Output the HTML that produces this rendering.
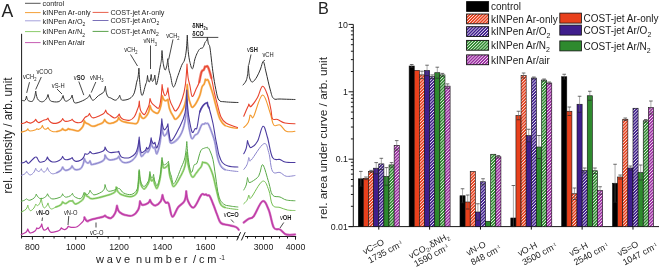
<!DOCTYPE html><html><head><meta charset="utf-8"><style>svg{font-family:"Liberation Sans",sans-serif}html,body{margin:0;padding:0;background:#fff;width:660px;height:268px;overflow:hidden;position:relative}</style></head><body><svg width="660" height="268" viewBox="0 0 660 268" style="position:absolute;left:0;top:0;filter:blur(0.3px)">
<defs>
<pattern id="hatch" patternUnits="userSpaceOnUse" width="2.2" height="2.2" patternTransform="rotate(45)"><rect x="0" y="0" width="0.75" height="2.2" fill="#fff" fill-opacity="0.85"/></pattern>
</defs>
<text x="1.6" y="16.6" font-size="17.6" text-anchor="start" font-weight="normal" fill="#222" >A</text>
<line x1="25" y1="3.3" x2="40.6" y2="3.3" stroke="#555555" stroke-width="1"/>
<text transform="translate(42.6,6.1) scale(0.9,1)" font-size="8" text-anchor="start" font-weight="normal" fill="#222" >control</text>
<line x1="25" y1="12.6" x2="40.6" y2="12.6" stroke="#f4a038" stroke-width="1"/>
<text transform="translate(42.6,15.399999999999999) scale(0.9,1)" font-size="8" text-anchor="start" font-weight="normal" fill="#222" >kINPen Ar-only</text>
<line x1="25" y1="20.8" x2="40.6" y2="20.8" stroke="#a6a2dc" stroke-width="1"/>
<text transform="translate(42.6,23.6) scale(0.9,1)" font-size="8" text-anchor="start" font-weight="normal" fill="#222" >kINPen Ar/O<tspan baseline-shift="-40%" font-size="70%">2</tspan></text>
<line x1="25" y1="31.6" x2="40.6" y2="31.6" stroke="#8ccc6a" stroke-width="1"/>
<text transform="translate(42.6,34.4) scale(0.9,1)" font-size="8" text-anchor="start" font-weight="normal" fill="#222" >kINPen Ar/N<tspan baseline-shift="-40%" font-size="70%">2</tspan></text>
<line x1="25" y1="42.6" x2="40.6" y2="42.6" stroke="#c65cb2" stroke-width="1"/>
<text transform="translate(42.6,45.4) scale(0.9,1)" font-size="8" text-anchor="start" font-weight="normal" fill="#222" >kINPen Ar/air</text>
<line x1="92.6" y1="12.4" x2="108.5" y2="12.4" stroke="#e8604a" stroke-width="1"/>
<text transform="translate(110.4,15.2) scale(0.9,1)" font-size="8" text-anchor="start" font-weight="normal" fill="#222" >COST-jet Ar-only</text>
<line x1="92.6" y1="20.5" x2="108.5" y2="20.5" stroke="#7a70b8" stroke-width="1"/>
<text transform="translate(110.4,23.3) scale(0.9,1)" font-size="8" text-anchor="start" font-weight="normal" fill="#222" >COST-jet Ar/O<tspan baseline-shift="-40%" font-size="70%">2</tspan></text>
<line x1="92.6" y1="31.4" x2="108.5" y2="31.4" stroke="#5aa24a" stroke-width="1"/>
<text transform="translate(110.4,34.199999999999996) scale(0.9,1)" font-size="8" text-anchor="start" font-weight="normal" fill="#222" >COST-jet Ar/N<tspan baseline-shift="-40%" font-size="70%">2</tspan></text>
<g stroke="#1a1a1a" stroke-width="1" fill="none">
<line x1="21.6" y1="33.8" x2="21.6" y2="236.5"/>
<line x1="21.1" y1="236.5" x2="239.2" y2="236.5"/>
<line x1="244.4" y1="236.5" x2="296.2" y2="236.5"/>
<line x1="21.57" y1="236.5" x2="21.57" y2="238.5"/>
<line x1="32.40" y1="236.5" x2="32.40" y2="239.7"/>
<line x1="43.22" y1="236.5" x2="43.22" y2="238.5"/>
<line x1="54.05" y1="236.5" x2="54.05" y2="238.5"/>
<line x1="64.88" y1="236.5" x2="64.88" y2="238.5"/>
<line x1="75.70" y1="236.5" x2="75.70" y2="239.7"/>
<line x1="86.53" y1="236.5" x2="86.53" y2="238.5"/>
<line x1="97.35" y1="236.5" x2="97.35" y2="238.5"/>
<line x1="108.18" y1="236.5" x2="108.18" y2="238.5"/>
<line x1="119.00" y1="236.5" x2="119.00" y2="239.7"/>
<line x1="129.82" y1="236.5" x2="129.82" y2="238.5"/>
<line x1="140.65" y1="236.5" x2="140.65" y2="238.5"/>
<line x1="151.47" y1="236.5" x2="151.47" y2="238.5"/>
<line x1="162.30" y1="236.5" x2="162.30" y2="239.7"/>
<line x1="173.12" y1="236.5" x2="173.12" y2="238.5"/>
<line x1="183.95" y1="236.5" x2="183.95" y2="238.5"/>
<line x1="194.78" y1="236.5" x2="194.78" y2="238.5"/>
<line x1="205.60" y1="236.5" x2="205.60" y2="239.7"/>
<line x1="216.43" y1="236.5" x2="216.43" y2="238.5"/>
<line x1="227.25" y1="236.5" x2="227.25" y2="238.5"/>
<line x1="238.08" y1="236.5" x2="238.08" y2="238.5"/>
<line x1="247.50" y1="236.5" x2="247.50" y2="238.5"/>
<line x1="255.50" y1="236.5" x2="255.50" y2="238.5"/>
<line x1="263.50" y1="236.5" x2="263.50" y2="239.7"/>
<line x1="271.50" y1="236.5" x2="271.50" y2="238.5"/>
<line x1="279.50" y1="236.5" x2="279.50" y2="238.5"/>
<line x1="287.50" y1="236.5" x2="287.50" y2="238.5"/>
<line x1="295.50" y1="236.5" x2="295.50" y2="239.7"/>
</g>
<rect x="238.5" y="230" width="6.5" height="12" fill="#fff"/>
<g stroke="#1a1a1a" stroke-width="1"><line x1="236.8" y1="240.4" x2="240.6" y2="232.2"/><line x1="241.4" y1="240.4" x2="245.2" y2="232.2"/></g>
<text x="32.40" y="249.6" font-size="8.8" text-anchor="middle" font-weight="normal" fill="#1a1a1a" >800</text>
<text x="75.70" y="249.6" font-size="8.8" text-anchor="middle" font-weight="normal" fill="#1a1a1a" >1000</text>
<text x="119.00" y="249.6" font-size="8.8" text-anchor="middle" font-weight="normal" fill="#1a1a1a" >1200</text>
<text x="162.30" y="249.6" font-size="8.8" text-anchor="middle" font-weight="normal" fill="#1a1a1a" >1400</text>
<text x="205.60" y="249.6" font-size="8.8" text-anchor="middle" font-weight="normal" fill="#1a1a1a" >1600</text>
<text x="263.50" y="249.6" font-size="8.8" text-anchor="middle" font-weight="normal" fill="#1a1a1a" >3000</text>
<text x="295.50" y="249.6" font-size="8.8" text-anchor="middle" font-weight="normal" fill="#1a1a1a" >4000</text>
<text x="96" y="263.3" font-size="11" fill="#222" textLength="129" lengthAdjust="spacing" xml:space="preserve">w a v e  n u m b e r  / c m <tspan baseline-shift="super" font-size="60%">-1</tspan></text>
<text transform="translate(11.7,193.4) rotate(-90)" x="0" y="0" font-size="12.2" fill="#222" textLength="116" lengthAdjust="spacingAndGlyphs">rel. intensity / arb. unit</text>
<path d="M21.50,100.20 C21.50,100.20 23.71,100.95 24.50,100.70 C25.29,100.45 25.43,99.68 25.80,98.82 C26.17,97.96 26.50,96.00 26.50,96.00 C26.50,96.00 26.82,97.96 27.16,98.82 C27.51,99.68 27.46,100.25 28.40,100.70 C29.34,101.15 31.18,101.95 32.30,101.30 C33.42,100.65 33.89,99.07 34.51,97.18 C35.13,95.29 35.70,91.00 35.70,91.00 C35.70,91.00 36.17,94.83 36.68,96.52 C37.19,98.21 37.45,99.23 38.50,100.20 C39.55,101.17 40.99,102.04 42.40,101.80 C43.81,101.56 45.17,100.22 46.20,98.88 C47.23,97.54 48.00,94.50 48.00,94.50 C48.00,94.50 48.57,97.33 49.19,98.58 C49.81,99.83 49.77,100.71 51.40,101.30 C53.03,101.89 56.28,102.17 58.10,101.80 C59.92,101.43 60.43,100.44 61.35,99.28 C62.27,98.12 63.10,95.50 63.10,95.50 C63.10,95.50 63.57,97.92 64.08,98.98 C64.59,100.04 64.94,101.19 65.90,101.30 C66.86,101.41 68.34,100.25 69.30,99.60 C70.26,98.95 70.61,98.60 71.12,97.76 C71.63,96.92 72.10,95.00 72.10,95.00 C72.10,95.00 72.65,98.33 73.25,99.80 C73.86,101.27 73.67,102.83 75.40,103.00 C77.13,103.17 80.54,101.62 82.70,100.70 C84.86,99.78 86.08,98.74 87.20,98.00 C88.32,97.26 88.37,97.26 88.83,96.64 C89.28,96.02 89.70,94.60 89.70,94.60 C89.70,94.60 90.32,96.93 91.00,97.96 C91.67,98.99 92.04,100.61 93.40,100.20 C94.76,99.79 96.66,97.04 98.40,95.70 C100.14,94.36 101.78,93.90 102.90,92.90 C104.02,91.90 104.07,91.45 104.53,90.22 C104.98,88.99 105.40,86.20 105.40,86.20 C105.40,86.20 105.83,90.62 106.31,92.56 C106.79,94.50 107.18,95.80 108.00,96.80 C108.82,97.80 109.48,97.38 110.80,98.00 C112.12,98.62 113.86,100.16 115.20,100.20 C116.54,100.24 117.30,99.12 118.12,98.20 C118.95,97.28 119.70,95.20 119.70,95.20 C119.70,95.20 120.17,97.28 120.68,98.20 C121.19,99.12 120.83,100.15 122.50,100.20 C124.17,100.25 127.64,99.84 129.80,98.50 C131.96,97.16 133.07,95.78 134.30,92.90 C135.53,90.02 135.81,85.73 136.50,82.80 C137.19,79.87 137.62,79.62 138.06,76.92 C138.50,74.22 138.90,68.10 138.90,68.10 C138.90,68.10 139.43,79.52 140.02,84.54 C140.61,89.56 141.10,95.42 142.10,95.50 C143.10,95.58 144.64,87.62 145.50,85.00 C146.36,82.38 146.43,82.94 146.80,81.20 C147.17,79.46 147.50,75.50 147.50,75.50 C147.50,75.50 147.78,78.21 148.09,79.40 C148.41,80.59 148.76,82.07 149.20,82.00 C149.64,81.93 150.13,80.38 150.50,79.00 C150.87,77.62 151.20,74.50 151.20,74.50 C151.20,74.50 151.42,77.42 151.66,78.70 C151.89,79.98 152.07,81.46 152.50,81.50 C152.93,81.54 153.57,80.09 154.00,78.90 C154.42,77.71 154.80,75.00 154.80,75.00 C154.80,75.00 155.13,78.75 155.50,80.40 C155.87,82.05 155.92,86.64 156.80,84.00 C157.68,81.36 159.46,70.44 160.30,66.00 C161.14,61.56 161.09,62.64 161.41,59.80 C161.72,56.96 162.00,50.50 162.00,50.50 C162.00,50.50 162.50,58.62 163.05,62.20 C163.60,65.78 164.31,69.40 165.00,70.00 C165.69,70.60 166.31,67.55 166.82,65.48 C167.33,63.41 167.80,58.70 167.80,58.70 C167.80,58.70 168.25,65.70 168.75,68.78 C169.24,71.86 169.63,72.16 170.50,75.50 C171.37,78.84 172.12,87.00 173.50,87.00 C174.88,87.00 176.50,79.48 178.00,75.50 C179.50,71.52 180.51,68.14 181.70,65.30 C182.89,62.46 183.65,62.80 184.50,60.00 C185.35,57.20 185.81,54.58 186.32,50.00 C186.83,45.42 187.30,35.00 187.30,35.00 C187.30,35.00 187.75,46.46 188.25,51.50 C188.74,56.54 189.22,59.34 190.00,62.50 C190.78,65.66 191.58,69.44 192.50,68.75 C193.42,68.06 194.08,61.73 195.00,58.75 C195.92,55.77 196.58,54.33 197.50,52.50 C198.42,50.67 198.99,49.67 200.00,48.75 C201.01,47.83 202.08,48.65 203.00,47.50 C203.92,46.35 204.34,43.78 205.00,42.50 C205.66,41.22 206.17,41.42 206.62,40.50 C207.08,39.58 207.50,37.50 207.50,37.50 C207.50,37.50 207.92,41.88 208.38,43.80 C208.83,45.72 209.17,42.87 210.00,48.00 C210.83,53.13 211.82,64.16 212.90,71.80 C213.98,79.44 214.80,84.53 215.90,89.70 C217.00,94.87 217.25,97.78 218.90,100.00 C220.55,102.22 221.40,101.34 224.90,101.80 C228.40,102.26 238.00,102.50 238.00,102.50" fill="none" stroke="#303030" stroke-width="1.0" stroke-linejoin="round" stroke-linecap="round"/>
<path d="M243.00,85.00 C243.00,85.00 245.16,82.87 246.00,81.00 C246.84,79.13 247.12,77.64 247.56,74.80 C248.00,71.96 248.40,65.50 248.40,65.50 C248.40,65.50 248.67,71.12 248.96,73.60 C249.25,76.07 249.35,77.46 250.00,79.00 C250.65,80.54 251.25,82.37 252.50,82.00 C253.75,81.63 255.33,79.38 256.80,77.00 C258.27,74.62 259.31,71.79 260.50,69.00 C261.69,66.21 262.29,61.25 263.30,61.80 C264.31,62.35 264.72,66.83 266.00,72.00 C267.28,77.17 268.91,85.14 270.30,90.00 C271.69,94.86 271.82,96.85 273.60,98.50 C275.38,100.15 276.08,98.82 280.00,99.00 C283.92,99.18 295.00,99.50 295.00,99.50" fill="none" stroke="#303030" stroke-width="1.0" stroke-linejoin="round" stroke-linecap="round"/>
<path d="M57.00,131.50 C57.00,131.50 59.77,130.89 60.80,130.38 C61.83,129.87 62.60,128.70 62.60,128.70 C62.60,128.70 63.07,129.41 63.58,129.72 C64.09,130.03 64.73,130.40 65.40,130.40 C66.07,130.40 66.71,130.03 67.22,129.72 C67.73,129.41 68.20,128.70 68.20,128.70 C68.20,128.70 68.93,129.16 69.74,129.36 C70.55,129.56 71.05,129.50 72.60,129.80 C74.15,130.10 76.55,131.29 78.20,131.00 C79.85,130.71 80.64,129.25 81.60,128.20 C82.56,127.15 82.91,126.62 83.42,125.28 C83.93,123.94 84.40,120.90 84.40,120.90 C84.40,120.90 85.07,122.23 85.80,122.82 C86.53,123.41 87.12,123.46 88.40,124.10 C89.68,124.74 90.97,126.21 92.80,126.30 C94.63,126.39 96.57,125.28 98.40,124.60 C100.23,123.92 101.66,123.52 102.80,122.60 C103.94,121.68 104.60,119.60 104.60,119.60 C104.60,119.60 105.37,121.22 106.40,121.94 C107.43,122.66 108.29,123.66 110.20,123.50 C112.11,123.34 115.26,122.18 116.80,121.06 C118.34,119.94 118.60,117.40 118.60,117.40 C118.60,117.40 119.43,119.23 120.35,120.04 C121.27,120.85 121.87,121.26 123.60,121.80 C125.33,122.34 127.44,122.69 129.80,123.00 C132.17,123.31 134.87,124.15 136.50,123.50 C138.13,122.85 138.09,121.31 138.71,119.46 C139.33,117.61 139.90,113.40 139.90,113.40 C139.90,113.40 140.45,115.53 141.06,116.46 C141.66,117.40 142.29,118.49 143.20,118.50 C144.11,118.51 145.01,117.67 146.00,116.50 C146.99,115.33 147.87,114.14 148.60,112.14 C149.33,110.14 150.00,105.60 150.00,105.60 C150.00,105.60 150.67,108.27 151.40,109.44 C152.13,110.61 152.79,111.35 154.00,112.00 C155.21,112.65 156.75,114.09 158.00,113.00 C159.25,111.91 160.01,109.25 160.80,106.08 C161.58,102.91 162.30,95.70 162.30,95.70 C162.30,95.70 162.77,97.78 163.28,98.70 C163.79,99.62 164.43,100.44 165.10,100.70 C165.77,100.96 166.41,100.40 166.92,100.14 C167.43,99.88 167.90,99.30 167.90,99.30 C167.90,99.30 168.70,105.97 169.58,108.90 C170.46,111.83 171.45,113.47 172.70,115.30 C173.95,117.13 174.40,120.24 176.40,118.90 C178.40,117.56 181.84,111.72 183.60,108.00 C185.36,104.28 185.33,102.91 186.00,98.60 C186.68,94.29 187.30,84.50 187.30,84.50 C187.30,84.50 187.80,92.42 188.35,95.90 C188.90,99.38 189.43,101.47 190.30,103.50 C191.17,105.53 191.45,108.23 193.10,107.00 C194.75,105.77 197.67,100.47 199.30,96.80 C200.93,93.13 201.10,89.36 202.00,87.00 C202.90,84.64 203.59,85.33 204.21,83.92 C204.83,82.51 205.40,79.30 205.40,79.30 C205.40,79.30 205.90,79.88 206.45,80.14 C207.00,80.40 207.22,78.12 208.40,80.70 C209.58,83.28 211.51,89.56 212.90,94.20 C214.29,98.84 214.70,101.45 216.00,106.00 C217.30,110.55 218.35,115.42 220.00,119.00 C221.65,122.58 225.00,125.50 225.00,125.50" fill="none" stroke="#f8b060" stroke-width="2.1" stroke-linejoin="round" stroke-linecap="round" opacity="0.8"/>
<path d="M21.25,132.10 C21.25,132.10 24.80,131.36 26.00,130.74 C27.20,130.12 27.80,128.70 27.80,128.70 C27.80,128.70 28.18,129.66 28.61,130.08 C29.03,130.50 28.93,131.00 30.10,131.00 C31.27,131.00 33.77,130.50 35.00,130.08 C36.23,129.66 36.80,128.70 36.80,128.70 C36.80,128.70 37.17,128.95 37.57,129.06 C37.97,129.17 38.33,129.54 39.00,129.30 C39.67,129.06 40.59,128.46 41.21,127.74 C41.83,127.03 42.40,125.40 42.40,125.40 C42.40,125.40 42.87,127.03 43.38,127.74 C43.89,128.46 44.53,129.14 45.20,129.30 C45.87,129.46 46.51,128.93 47.02,128.62 C47.53,128.31 48.00,127.60 48.00,127.60 C48.00,127.60 48.75,129.22 49.58,129.94 C50.40,130.66 51.14,131.21 52.50,131.50 C53.86,131.79 55.48,131.71 57.00,131.50 C58.52,131.29 59.77,130.89 60.80,130.38 C61.83,129.87 62.60,128.70 62.60,128.70 C62.60,128.70 63.07,129.41 63.58,129.72 C64.09,130.03 64.73,130.40 65.40,130.40 C66.07,130.40 66.71,130.03 67.22,129.72 C67.73,129.41 68.20,128.70 68.20,128.70 C68.20,128.70 68.93,129.16 69.74,129.36 C70.55,129.56 71.05,129.50 72.60,129.80 C74.15,130.10 76.55,131.29 78.20,131.00 C79.85,130.71 80.64,129.25 81.60,128.20 C82.56,127.15 82.91,126.62 83.42,125.28 C83.93,123.94 84.40,120.90 84.40,120.90 C84.40,120.90 85.07,122.23 85.80,122.82 C86.53,123.41 87.12,123.46 88.40,124.10 C89.68,124.74 90.97,126.21 92.80,126.30 C94.63,126.39 96.57,125.28 98.40,124.60 C100.23,123.92 101.66,123.52 102.80,122.60 C103.94,121.68 104.60,119.60 104.60,119.60 C104.60,119.60 105.37,121.22 106.40,121.94 C107.43,122.66 108.29,123.66 110.20,123.50 C112.11,123.34 115.26,122.18 116.80,121.06 C118.34,119.94 118.60,117.40 118.60,117.40 C118.60,117.40 119.43,119.23 120.35,120.04 C121.27,120.85 121.87,121.26 123.60,121.80 C125.33,122.34 127.44,122.69 129.80,123.00 C132.17,123.31 134.87,124.15 136.50,123.50 C138.13,122.85 138.09,121.31 138.71,119.46 C139.33,117.61 139.90,113.40 139.90,113.40 C139.90,113.40 140.45,115.53 141.06,116.46 C141.66,117.40 142.29,118.49 143.20,118.50 C144.11,118.51 145.01,117.67 146.00,116.50 C146.99,115.33 147.87,114.14 148.60,112.14 C149.33,110.14 150.00,105.60 150.00,105.60 C150.00,105.60 150.67,108.27 151.40,109.44 C152.13,110.61 152.79,111.35 154.00,112.00 C155.21,112.65 156.75,114.09 158.00,113.00 C159.25,111.91 160.01,109.25 160.80,106.08 C161.58,102.91 162.30,95.70 162.30,95.70 C162.30,95.70 162.77,97.78 163.28,98.70 C163.79,99.62 164.43,100.44 165.10,100.70 C165.77,100.96 166.41,100.40 166.92,100.14 C167.43,99.88 167.90,99.30 167.90,99.30 C167.90,99.30 168.70,105.97 169.58,108.90 C170.46,111.83 171.45,113.47 172.70,115.30 C173.95,117.13 174.40,120.24 176.40,118.90 C178.40,117.56 181.84,111.72 183.60,108.00 C185.36,104.28 185.33,102.91 186.00,98.60 C186.68,94.29 187.30,84.50 187.30,84.50 C187.30,84.50 187.80,92.42 188.35,95.90 C188.90,99.38 189.43,101.47 190.30,103.50 C191.17,105.53 191.45,108.23 193.10,107.00 C194.75,105.77 197.67,100.47 199.30,96.80 C200.93,93.13 201.10,89.36 202.00,87.00 C202.90,84.64 203.59,85.33 204.21,83.92 C204.83,82.51 205.40,79.30 205.40,79.30 C205.40,79.30 205.90,79.88 206.45,80.14 C207.00,80.40 207.22,78.12 208.40,80.70 C209.58,83.28 211.51,89.56 212.90,94.20 C214.29,98.84 214.70,101.45 216.00,106.00 C217.30,110.55 218.35,115.42 220.00,119.00 C221.65,122.58 221.79,123.76 225.00,125.50 C228.21,127.24 237.50,128.50 237.50,128.50" fill="none" stroke="#f39a2e" stroke-width="1.1" stroke-linejoin="round" stroke-linecap="round"/>
<path d="M243.75,127.50 C243.75,127.50 247.05,124.79 248.20,122.50 C249.35,120.21 250.00,115.00 250.00,115.00 C250.00,115.00 250.62,115.52 251.31,115.75 C252.00,115.98 251.70,120.05 253.75,116.25 C255.80,112.45 259.52,95.69 262.50,95.00 C265.48,94.31 267.94,107.00 270.00,112.50 C272.06,118.00 271.92,122.71 273.75,125.00 C275.58,127.29 277.71,123.85 280.00,125.00 C282.29,126.15 283.50,130.10 286.25,131.25 C289.00,132.40 295.00,131.25 295.00,131.25" fill="none" stroke="#f39a2e" stroke-width="1.1" stroke-linejoin="round" stroke-linecap="round"/>
<path d="M199.30,82.00 C199.30,82.00 200.68,74.24 201.50,72.00 C202.32,69.76 203.13,70.81 203.78,69.80 C204.42,68.79 205.00,66.50 205.00,66.50 C205.00,66.50 205.50,66.71 206.05,66.80 C206.60,66.89 207.02,64.98 208.00,67.00 C208.98,69.02 211.40,77.80 211.40,77.80" fill="none" stroke="#ee6a55" stroke-width="2.6" stroke-linejoin="round" stroke-linecap="round" opacity="0.8"/>
<path d="M21.25,123.70 C21.25,123.70 23.90,123.20 24.90,122.78 C25.90,122.36 26.70,121.40 26.70,121.40 C26.70,121.40 27.35,122.11 28.07,122.42 C28.78,122.73 29.53,123.26 30.60,123.10 C31.67,122.94 32.98,122.25 33.91,121.54 C34.85,120.82 35.70,119.20 35.70,119.20 C35.70,119.20 36.25,120.62 36.86,121.24 C37.46,121.86 37.78,122.77 39.00,122.60 C40.22,122.43 42.14,120.88 43.50,120.30 C44.86,119.72 45.60,119.82 46.42,119.42 C47.25,119.02 48.00,118.10 48.00,118.10 C48.00,118.10 48.75,120.18 49.58,121.10 C50.40,122.02 51.14,122.73 52.50,123.10 C53.86,123.47 55.48,123.43 57.00,123.10 C58.52,122.77 59.77,122.12 60.80,121.30 C61.83,120.47 62.60,118.60 62.60,118.60 C62.60,118.60 63.15,119.77 63.76,120.28 C64.36,120.79 64.70,121.36 65.90,121.40 C67.10,121.44 69.16,120.92 70.30,120.52 C71.44,120.12 72.10,119.20 72.10,119.20 C72.10,119.20 72.93,120.62 73.85,121.24 C74.77,121.86 75.68,122.46 77.10,122.60 C78.52,122.74 80.15,122.95 81.60,122.00 C83.05,121.05 83.84,118.54 85.00,117.40 C86.16,116.26 87.10,116.53 87.92,115.80 C88.75,115.07 89.50,113.40 89.50,113.40 C89.50,113.40 90.15,115.28 90.87,116.10 C91.58,116.93 91.80,117.97 93.40,117.90 C95.00,117.83 97.67,116.51 99.60,115.70 C101.52,114.89 102.78,114.49 103.90,113.46 C105.02,112.43 105.70,110.10 105.70,110.10 C105.70,110.10 106.27,111.97 106.89,112.80 C107.51,113.62 107.78,113.66 109.10,114.60 C110.42,115.53 112.58,117.58 114.10,117.90 C115.62,118.22 116.48,117.06 117.42,116.34 C118.35,115.62 119.20,114.00 119.20,114.00 C119.20,114.00 119.93,116.33 120.74,117.36 C121.55,118.39 121.94,119.08 123.60,119.60 C125.26,120.12 127.84,120.71 129.80,120.20 C131.76,119.69 132.87,118.85 134.30,116.80 C135.73,114.75 136.79,111.01 137.60,109.00 C138.41,106.99 138.39,107.29 138.71,105.84 C139.02,104.39 139.30,101.10 139.30,101.10 C139.30,101.10 139.58,105.31 139.90,107.16 C140.21,109.01 140.17,109.84 141.00,111.20 C141.83,112.56 143.26,114.91 144.40,114.60 C145.54,114.29 146.35,111.24 147.20,109.50 C148.05,107.76 148.51,107.12 149.02,105.10 C149.53,103.08 150.00,98.50 150.00,98.50 C150.00,98.50 150.75,101.46 151.57,102.76 C152.40,104.06 153.18,104.64 154.50,105.60 C155.82,106.56 157.57,109.28 158.75,108.00 C159.93,106.72 160.31,102.91 160.93,98.60 C161.54,94.29 162.10,84.50 162.10,84.50 C162.10,84.50 162.60,89.17 163.15,91.22 C163.70,93.27 164.41,95.46 165.10,95.70 C165.79,95.94 166.41,93.99 166.92,92.54 C167.43,91.09 167.90,87.80 167.90,87.80 C167.90,87.80 168.70,95.72 169.58,99.20 C170.46,102.68 171.45,104.73 172.70,106.80 C173.95,108.87 174.62,112.06 176.40,110.50 C178.18,108.94 180.75,103.05 182.40,98.30 C184.05,93.55 184.55,90.87 185.39,84.58 C186.23,78.29 187.00,64.00 187.00,64.00 C187.00,64.00 187.50,73.17 188.05,77.20 C188.60,81.23 189.24,82.46 190.00,86.00 C190.76,89.54 191.12,95.86 192.20,96.50 C193.28,97.14 194.60,92.16 195.90,89.50 C197.20,86.84 198.27,85.21 199.30,82.00 C200.33,78.79 200.68,74.24 201.50,72.00 C202.32,69.76 203.13,70.81 203.78,69.80 C204.42,68.79 205.00,66.50 205.00,66.50 C205.00,66.50 205.50,66.71 206.05,66.80 C206.60,66.89 207.02,64.98 208.00,67.00 C208.98,69.02 210.23,73.09 211.40,77.80 C212.57,82.51 213.30,87.79 214.40,92.70 C215.50,97.61 216.19,100.14 217.40,104.60 C218.61,109.05 219.42,113.63 221.00,117.00 C222.58,120.37 222.97,121.08 226.00,123.00 C229.03,124.92 237.50,127.50 237.50,127.50" fill="none" stroke="#e8442e" stroke-width="1.1" stroke-linejoin="round" stroke-linecap="round"/>
<path d="M243.75,116.25 C243.75,116.25 246.66,109.36 247.50,107.50 C248.34,105.64 248.08,106.74 248.31,106.10 C248.54,105.46 248.75,104.00 248.75,104.00 C248.75,104.00 249.17,104.94 249.62,105.35 C250.08,105.76 249.81,107.69 251.25,106.25 C252.69,104.81 255.44,101.17 257.50,97.50 C259.56,93.83 260.67,86.71 262.50,86.25 C264.33,85.79 265.94,90.65 267.50,95.00 C269.06,99.35 270.08,105.65 271.00,110.00 C271.92,114.35 271.31,117.01 272.50,118.75 C273.69,120.49 275.21,118.72 277.50,119.50 C279.79,120.28 281.79,122.22 285.00,123.00 C288.21,123.78 295.00,123.75 295.00,123.75" fill="none" stroke="#e8442e" stroke-width="1.1" stroke-linejoin="round" stroke-linecap="round"/>
<path d="M57.00,172.60 C57.00,172.60 59.77,171.39 60.80,170.36 C61.83,169.33 62.60,167.00 62.60,167.00 C62.60,167.00 63.15,168.42 63.76,169.04 C64.36,169.66 64.70,170.48 65.90,170.40 C67.10,170.32 69.16,169.42 70.30,168.60 C71.44,167.78 72.10,165.90 72.10,165.90 C72.10,165.90 72.75,167.53 73.47,168.24 C74.18,168.96 74.71,169.72 76.00,169.80 C77.29,169.88 79.21,169.64 80.50,168.70 C81.79,167.76 82.32,166.51 83.03,164.66 C83.75,162.81 84.40,158.60 84.40,158.60 C84.40,158.60 84.97,160.47 85.59,161.30 C86.21,162.12 87.13,162.93 87.80,163.10 C88.47,163.27 88.83,162.62 89.23,162.22 C89.63,161.82 90.00,160.90 90.00,160.90 C90.00,160.90 90.42,162.40 90.88,163.06 C91.33,163.72 90.24,164.93 92.50,164.50 C94.76,164.07 100.91,162.44 103.20,160.70 C105.49,158.96 105.00,155.00 105.00,155.00 C105.00,155.00 105.83,157.08 106.75,158.00 C107.67,158.92 108.13,159.91 110.00,160.00 C111.87,160.09 115.35,159.19 116.95,158.50 C118.55,157.81 118.75,156.25 118.75,156.25 C118.75,156.25 119.58,158.85 120.50,160.00 C121.42,161.15 122.01,162.17 123.75,162.50 C125.49,162.83 127.86,162.81 130.00,161.80 C132.14,160.79 133.96,159.08 135.40,157.00 C136.84,154.92 137.17,153.47 137.87,150.48 C138.57,147.49 139.20,140.70 139.20,140.70 C139.20,140.70 139.57,147.20 139.97,150.06 C140.37,152.92 140.59,155.67 141.40,156.30 C142.21,156.93 143.59,154.24 144.40,153.50 C145.21,152.76 145.43,152.83 145.83,152.26 C146.23,151.69 146.60,150.40 146.60,150.40 C146.60,150.40 146.85,151.07 147.12,151.36 C147.40,151.65 147.56,152.66 148.10,152.00 C148.64,151.34 149.50,149.70 150.05,147.76 C150.60,145.82 151.10,141.40 151.10,141.40 C151.10,141.40 151.48,144.15 151.91,145.36 C152.33,146.57 152.95,147.59 153.40,148.00 C153.85,148.41 154.10,147.78 154.38,147.60 C154.65,147.42 154.90,147.00 154.90,147.00 C154.90,147.00 155.27,149.67 155.67,150.84 C156.07,152.01 156.28,155.01 157.10,153.40 C157.92,151.79 159.29,147.25 160.16,142.04 C161.02,136.83 161.80,125.00 161.80,125.00 C161.80,125.00 162.20,129.54 162.64,131.54 C163.08,133.54 163.47,135.55 164.20,135.90 C164.93,136.25 165.93,134.58 166.60,133.46 C167.28,132.34 167.90,129.80 167.90,129.80 C167.90,129.80 168.50,135.38 169.16,137.84 C169.82,140.30 169.51,143.56 171.50,143.20 C173.49,142.84 177.53,139.94 180.00,135.90 C182.47,131.86 183.75,127.91 185.00,121.14 C186.25,114.38 186.80,99.00 186.80,99.00 C186.80,99.00 187.42,114.00 188.09,120.60 C188.77,127.20 189.73,131.66 190.50,135.00 C191.27,138.34 191.46,138.78 192.30,138.80 C193.14,138.82 194.07,136.13 195.10,135.10 C196.13,134.07 196.69,135.07 197.90,133.20 C199.11,131.33 200.56,126.56 201.70,124.90 C202.84,123.24 203.43,124.49 204.10,124.14 C204.78,123.79 205.40,123.00 205.40,123.00 C205.40,123.00 205.87,123.38 206.38,123.54 C206.89,123.71 207.35,122.64 208.20,123.90 C209.05,125.16 209.81,127.16 211.00,130.40 C212.19,133.65 213.51,136.72 214.70,141.60 C215.89,146.48 216.44,152.62 217.50,157.00 C218.56,161.38 219.14,163.19 220.50,165.50 C221.86,167.81 224.90,169.60 224.90,169.60" fill="none" stroke="#aba6de" stroke-width="2.1" stroke-linejoin="round" stroke-linecap="round" opacity="0.8"/>
<path d="M21.25,175.40 C21.25,175.40 23.90,174.56 24.90,173.84 C25.90,173.12 26.70,171.50 26.70,171.50 C26.70,171.50 27.35,172.92 28.07,173.54 C28.78,174.16 29.53,175.14 30.60,174.90 C31.67,174.66 32.98,173.45 33.91,172.22 C34.85,170.99 35.70,168.20 35.70,168.20 C35.70,168.20 36.17,169.58 36.68,170.18 C37.19,170.78 37.83,171.46 38.50,171.50 C39.17,171.54 39.81,170.89 40.32,170.38 C40.83,169.87 41.30,168.70 41.30,168.70 C41.30,168.70 41.77,170.12 42.28,170.74 C42.79,171.36 43.37,172.18 44.10,172.10 C44.83,172.02 45.64,171.12 46.24,170.30 C46.85,169.47 47.40,167.60 47.40,167.60 C47.40,167.60 48.25,170.18 49.19,171.32 C50.12,172.46 51.07,173.57 52.50,173.80 C53.93,174.03 55.48,173.23 57.00,172.60 C58.52,171.97 59.77,171.39 60.80,170.36 C61.83,169.33 62.60,167.00 62.60,167.00 C62.60,167.00 63.15,168.42 63.76,169.04 C64.36,169.66 64.70,170.48 65.90,170.40 C67.10,170.32 69.16,169.42 70.30,168.60 C71.44,167.78 72.10,165.90 72.10,165.90 C72.10,165.90 72.75,167.53 73.47,168.24 C74.18,168.96 74.71,169.72 76.00,169.80 C77.29,169.88 79.21,169.64 80.50,168.70 C81.79,167.76 82.32,166.51 83.03,164.66 C83.75,162.81 84.40,158.60 84.40,158.60 C84.40,158.60 84.97,160.47 85.59,161.30 C86.21,162.12 87.13,162.93 87.80,163.10 C88.47,163.27 88.83,162.62 89.23,162.22 C89.63,161.82 90.00,160.90 90.00,160.90 C90.00,160.90 90.42,162.40 90.88,163.06 C91.33,163.72 90.24,164.93 92.50,164.50 C94.76,164.07 100.91,162.44 103.20,160.70 C105.49,158.96 105.00,155.00 105.00,155.00 C105.00,155.00 105.83,157.08 106.75,158.00 C107.67,158.92 108.13,159.91 110.00,160.00 C111.87,160.09 115.35,159.19 116.95,158.50 C118.55,157.81 118.75,156.25 118.75,156.25 C118.75,156.25 119.58,158.85 120.50,160.00 C121.42,161.15 122.01,162.17 123.75,162.50 C125.49,162.83 127.86,162.81 130.00,161.80 C132.14,160.79 133.96,159.08 135.40,157.00 C136.84,154.92 137.17,153.47 137.87,150.48 C138.57,147.49 139.20,140.70 139.20,140.70 C139.20,140.70 139.57,147.20 139.97,150.06 C140.37,152.92 140.59,155.67 141.40,156.30 C142.21,156.93 143.59,154.24 144.40,153.50 C145.21,152.76 145.43,152.83 145.83,152.26 C146.23,151.69 146.60,150.40 146.60,150.40 C146.60,150.40 146.85,151.07 147.12,151.36 C147.40,151.65 147.56,152.66 148.10,152.00 C148.64,151.34 149.50,149.70 150.05,147.76 C150.60,145.82 151.10,141.40 151.10,141.40 C151.10,141.40 151.48,144.15 151.91,145.36 C152.33,146.57 152.95,147.59 153.40,148.00 C153.85,148.41 154.10,147.78 154.38,147.60 C154.65,147.42 154.90,147.00 154.90,147.00 C154.90,147.00 155.27,149.67 155.67,150.84 C156.07,152.01 156.28,155.01 157.10,153.40 C157.92,151.79 159.29,147.25 160.16,142.04 C161.02,136.83 161.80,125.00 161.80,125.00 C161.80,125.00 162.20,129.54 162.64,131.54 C163.08,133.54 163.47,135.55 164.20,135.90 C164.93,136.25 165.93,134.58 166.60,133.46 C167.28,132.34 167.90,129.80 167.90,129.80 C167.90,129.80 168.50,135.38 169.16,137.84 C169.82,140.30 169.51,143.56 171.50,143.20 C173.49,142.84 177.53,139.94 180.00,135.90 C182.47,131.86 183.75,127.91 185.00,121.14 C186.25,114.38 186.80,99.00 186.80,99.00 C186.80,99.00 187.42,114.00 188.09,120.60 C188.77,127.20 189.73,131.66 190.50,135.00 C191.27,138.34 191.46,138.78 192.30,138.80 C193.14,138.82 194.07,136.13 195.10,135.10 C196.13,134.07 196.69,135.07 197.90,133.20 C199.11,131.33 200.56,126.56 201.70,124.90 C202.84,123.24 203.43,124.49 204.10,124.14 C204.78,123.79 205.40,123.00 205.40,123.00 C205.40,123.00 205.87,123.38 206.38,123.54 C206.89,123.71 207.35,122.64 208.20,123.90 C209.05,125.16 209.81,127.16 211.00,130.40 C212.19,133.65 213.51,136.72 214.70,141.60 C215.89,146.48 216.44,152.62 217.50,157.00 C218.56,161.38 219.14,163.19 220.50,165.50 C221.86,167.81 221.71,168.50 224.90,169.60 C228.09,170.70 237.90,171.50 237.90,171.50" fill="none" stroke="#8a84cc" stroke-width="1.0" stroke-linejoin="round" stroke-linecap="round"/>
<path d="M243.75,169.50 C243.75,169.50 246.08,166.90 247.00,164.70 C247.92,162.50 248.75,157.50 248.75,157.50 C248.75,157.50 249.17,158.54 249.62,159.00 C250.08,159.46 248.66,162.80 251.25,160.00 C253.84,157.20 260.54,145.12 263.75,143.75 C266.96,142.38 267.15,147.46 268.75,152.50 C270.35,157.54 270.44,167.58 272.50,171.25 C274.56,174.92 277.48,171.58 280.00,172.50 C282.52,173.42 283.50,175.70 286.25,176.25 C289.00,176.80 295.00,175.50 295.00,175.50" fill="none" stroke="#8a84cc" stroke-width="1.0" stroke-linejoin="round" stroke-linecap="round"/>
<path d="M199.80,111.80 C199.80,111.80 201.57,107.74 202.60,106.20 C203.63,104.66 204.66,103.98 205.40,103.40 C206.14,102.82 206.29,103.21 206.64,103.04 C206.98,102.88 207.30,102.50 207.30,102.50 C207.30,102.50 207.60,104.79 207.93,105.80 C208.26,106.81 209.10,108.00 209.10,108.00" fill="none" stroke="#5a4aae" stroke-width="1.8" stroke-linejoin="round" stroke-linecap="round" opacity="0.8"/>
<path d="M21.25,163.00 C21.25,163.00 23.56,162.54 24.47,162.16 C25.38,161.78 26.20,160.90 26.20,160.90 C26.20,160.90 26.67,161.82 27.18,162.22 C27.69,162.62 27.64,163.97 29.00,163.10 C30.36,162.23 33.17,158.53 34.60,157.50 C36.03,156.47 35.88,156.68 36.80,157.50 C37.72,158.32 38.26,161.28 39.60,162.00 C40.94,162.72 42.88,161.83 44.10,161.40 C45.32,160.97 45.64,160.45 46.24,159.64 C46.85,158.83 47.40,157.00 47.40,157.00 C47.40,157.00 48.25,159.08 49.19,160.00 C50.12,160.92 51.07,161.74 52.50,162.00 C53.93,162.26 55.48,161.88 57.00,161.40 C58.52,160.92 59.77,160.32 60.80,159.40 C61.83,158.48 62.60,156.40 62.60,156.40 C62.60,156.40 63.15,157.82 63.76,158.44 C64.36,159.06 64.70,159.72 65.90,159.80 C67.10,159.88 69.16,159.30 70.30,158.88 C71.44,158.46 72.10,157.50 72.10,157.50 C72.10,157.50 72.75,159.12 73.47,159.84 C74.18,160.56 74.71,161.32 76.00,161.40 C77.29,161.48 79.14,160.99 80.50,160.30 C81.86,159.61 82.60,158.85 83.42,157.62 C84.25,156.39 85.00,153.60 85.00,153.60 C85.00,153.60 85.37,153.85 85.77,153.96 C86.17,154.07 86.60,154.36 87.20,154.20 C87.80,154.04 88.51,153.59 89.02,153.08 C89.53,152.57 90.00,151.40 90.00,151.40 C90.00,151.40 90.62,152.38 91.31,152.81 C92.00,153.24 91.57,154.07 93.75,153.75 C95.93,153.43 101.14,152.29 103.20,151.05 C105.26,149.81 105.00,147.00 105.00,147.00 C105.00,147.00 105.83,149.29 106.75,150.30 C107.67,151.31 108.13,152.19 110.00,152.50 C111.87,152.81 115.35,152.23 116.95,152.00 C118.55,151.77 118.75,151.25 118.75,151.25 C118.75,151.25 119.38,153.85 120.06,155.00 C120.75,156.15 120.68,157.04 122.50,157.50 C124.32,157.96 127.64,158.25 130.00,157.50 C132.37,156.75 133.96,155.35 135.40,153.40 C136.84,151.45 137.17,149.85 137.87,146.84 C138.57,143.83 139.20,137.00 139.20,137.00 C139.20,137.00 139.57,143.50 139.97,146.36 C140.37,149.22 140.59,151.73 141.40,152.60 C142.21,153.47 143.59,151.65 144.40,151.10 C145.21,150.55 145.43,150.30 145.83,149.62 C146.23,148.94 146.60,147.40 146.60,147.40 C146.60,147.40 146.85,148.03 147.12,148.30 C147.40,148.58 147.56,149.61 148.10,148.90 C148.64,148.19 149.50,146.47 150.05,144.42 C150.60,142.37 151.10,137.70 151.10,137.70 C151.10,137.70 151.48,140.20 151.91,141.30 C152.33,142.40 152.95,143.37 153.40,143.70 C153.85,144.03 154.10,143.38 154.38,143.10 C154.65,142.82 154.90,142.20 154.90,142.20 C154.90,142.20 155.27,144.37 155.67,145.32 C156.07,146.27 156.28,149.11 157.10,147.40 C157.92,145.69 159.29,141.22 160.16,136.00 C161.02,130.78 161.80,118.90 161.80,118.90 C161.80,118.90 162.20,123.44 162.64,125.44 C163.08,127.44 163.47,129.44 164.20,129.80 C164.93,130.16 165.93,128.50 166.60,127.40 C167.28,126.30 167.90,123.80 167.90,123.80 C167.90,123.80 168.50,130.88 169.16,134.00 C169.82,137.12 169.73,141.79 171.50,140.80 C173.27,139.81 176.33,133.67 178.80,128.60 C181.28,123.53 183.53,120.24 185.00,113.16 C186.47,106.08 186.80,90.00 186.80,90.00 C186.80,90.00 187.27,103.08 187.78,108.84 C188.29,114.60 188.77,117.10 189.60,121.40 C190.43,125.70 191.29,130.98 192.30,132.30 C193.31,133.62 194.24,129.46 195.10,128.60 C195.96,127.74 196.14,130.68 197.00,127.60 C197.86,124.52 198.77,115.72 199.80,111.80 C200.83,107.88 201.57,107.74 202.60,106.20 C203.63,104.66 204.66,103.98 205.40,103.40 C206.14,102.82 206.29,103.21 206.64,103.04 C206.98,102.88 207.30,102.50 207.30,102.50 C207.30,102.50 207.60,104.79 207.93,105.80 C208.26,106.81 208.19,104.85 209.10,108.00 C210.01,111.15 211.76,117.68 212.90,123.00 C214.04,128.32 214.46,132.42 215.30,137.00 C216.14,141.58 216.82,144.70 217.50,148.00 C218.18,151.30 218.12,152.34 219.00,155.00 C219.88,157.66 220.65,160.48 222.30,162.50 C223.95,164.52 225.14,165.18 228.00,166.00 C230.86,166.82 237.90,167.00 237.90,167.00" fill="none" stroke="#4b3b9f" stroke-width="1.1" stroke-linejoin="round" stroke-linecap="round"/>
<path d="M243.75,153.75 C243.75,153.75 245.50,150.88 246.19,148.45 C246.88,146.02 247.50,140.50 247.50,140.50 C247.50,140.50 248.12,143.42 248.81,144.70 C249.50,145.98 249.66,148.13 251.25,147.50 C252.84,146.87 255.35,145.15 257.50,141.25 C259.65,137.35 261.17,126.94 263.00,126.25 C264.83,125.56 265.76,131.77 267.50,137.50 C269.24,143.23 270.21,153.47 272.50,157.50 C274.79,161.53 277.71,158.68 280.00,159.50 C282.29,160.32 282.25,161.45 285.00,162.00 C287.75,162.55 295.00,162.50 295.00,162.50" fill="none" stroke="#4b3b9f" stroke-width="1.1" stroke-linejoin="round" stroke-linecap="round"/>
<path d="M56.00,207.00 C56.00,207.00 59.59,205.87 60.80,204.92 C62.01,203.97 62.60,201.80 62.60,201.80 C62.60,201.80 63.17,202.51 63.79,202.82 C64.41,203.13 64.99,203.80 66.00,203.50 C67.01,203.20 68.30,201.66 69.30,201.20 C70.30,200.74 70.84,201.09 71.44,201.00 C72.05,200.91 72.60,200.70 72.60,200.70 C72.60,200.70 73.17,202.08 73.79,202.68 C74.41,203.28 74.57,204.36 76.00,204.00 C77.43,203.64 80.17,201.84 81.60,200.70 C83.03,199.56 83.19,199.12 83.81,197.78 C84.43,196.44 85.00,193.40 85.00,193.40 C85.00,193.40 85.55,194.82 86.16,195.44 C86.76,196.06 87.14,196.19 88.30,196.80 C89.46,197.41 89.44,198.90 92.50,198.75 C95.56,198.60 100.98,197.16 105.00,196.00 C109.02,194.84 112.39,194.05 114.45,192.40 C116.51,190.75 116.25,187.00 116.25,187.00 C116.25,187.00 116.90,190.33 118.05,191.80 C119.20,193.27 120.09,194.12 122.50,195.00 C124.91,195.88 128.58,196.97 131.20,196.60 C133.82,196.23 135.49,195.24 136.80,193.00 C138.11,190.76 137.92,188.34 138.36,184.40 C138.80,180.46 139.20,171.50 139.20,171.50 C139.20,171.50 139.58,177.54 140.00,180.20 C140.43,182.86 140.71,184.39 141.50,186.00 C142.29,187.61 143.11,189.37 144.30,189.00 C145.49,188.63 147.10,185.61 148.00,184.00 C148.90,182.39 148.89,181.94 149.24,180.20 C149.58,178.46 149.90,174.50 149.90,174.50 C149.90,174.50 150.20,177.21 150.53,178.40 C150.86,179.59 151.26,180.74 151.70,181.00 C152.14,181.26 152.59,180.35 152.94,179.80 C153.28,179.25 153.60,178.00 153.60,178.00 C153.60,178.00 153.90,181.33 154.23,182.80 C154.56,184.27 154.84,185.05 155.40,186.00 C155.96,186.95 156.39,189.66 157.30,188.00 C158.21,186.34 159.49,182.00 160.36,176.92 C161.22,171.84 162.00,160.30 162.00,160.30 C162.00,160.30 162.30,163.51 162.63,164.92 C162.96,166.33 163.03,167.73 163.80,168.00 C164.57,168.27 165.99,167.13 166.86,166.40 C167.72,165.67 168.50,164.00 168.50,164.00 C168.50,164.00 168.97,171.00 169.48,174.08 C169.99,177.16 170.45,178.54 171.30,180.80 C172.15,183.06 172.28,187.46 174.10,186.40 C175.92,185.34 179.25,178.78 181.25,175.00 C183.25,171.22 183.98,170.02 185.00,165.80 C186.02,161.58 186.80,152.00 186.80,152.00 C186.80,152.00 187.59,162.42 188.60,167.00 C189.61,171.58 190.93,175.86 192.30,177.00 C193.68,178.14 194.89,174.57 196.10,173.20 C197.31,171.82 197.95,170.73 198.90,169.50 C199.85,168.27 200.63,167.88 201.31,166.50 C201.98,165.12 202.60,162.00 202.60,162.00 C202.60,162.00 203.22,162.42 203.90,162.60 C204.57,162.78 205.35,162.41 206.30,163.00 C207.25,163.59 207.89,163.58 209.10,165.80 C210.31,168.02 211.63,171.03 212.90,175.10 C214.17,179.17 214.70,182.88 216.00,188.00 C217.30,193.12 218.35,199.43 220.00,203.00 C221.65,206.57 225.00,207.50 225.00,207.50" fill="none" stroke="#98d47a" stroke-width="2.1" stroke-linejoin="round" stroke-linecap="round" opacity="0.8"/>
<path d="M21.25,212.00 C21.25,212.00 24.80,210.51 26.00,209.24 C27.20,207.97 27.80,205.10 27.80,205.10 C27.80,205.10 28.27,207.43 28.78,208.46 C29.29,209.49 29.66,210.78 30.60,210.70 C31.54,210.62 32.98,209.25 33.91,208.02 C34.85,206.79 35.70,204.00 35.70,204.00 C35.70,204.00 36.08,204.62 36.51,204.90 C36.93,205.18 37.33,205.95 38.00,205.50 C38.67,205.05 39.54,203.85 40.14,202.46 C40.75,201.07 41.30,197.90 41.30,197.90 C41.30,197.90 41.77,202.07 42.28,203.90 C42.79,205.73 43.30,207.53 44.10,207.90 C44.90,208.27 45.92,206.82 46.63,205.90 C47.35,204.98 48.00,202.90 48.00,202.90 C48.00,202.90 48.57,205.44 49.19,206.56 C49.81,207.68 50.15,208.92 51.40,209.00 C52.65,209.08 54.28,207.75 56.00,207.00 C57.72,206.25 59.59,205.87 60.80,204.92 C62.01,203.97 62.60,201.80 62.60,201.80 C62.60,201.80 63.17,202.51 63.79,202.82 C64.41,203.13 64.99,203.80 66.00,203.50 C67.01,203.20 68.30,201.66 69.30,201.20 C70.30,200.74 70.84,201.09 71.44,201.00 C72.05,200.91 72.60,200.70 72.60,200.70 C72.60,200.70 73.17,202.08 73.79,202.68 C74.41,203.28 74.57,204.36 76.00,204.00 C77.43,203.64 80.17,201.84 81.60,200.70 C83.03,199.56 83.19,199.12 83.81,197.78 C84.43,196.44 85.00,193.40 85.00,193.40 C85.00,193.40 85.55,194.82 86.16,195.44 C86.76,196.06 87.14,196.19 88.30,196.80 C89.46,197.41 89.44,198.90 92.50,198.75 C95.56,198.60 100.98,197.16 105.00,196.00 C109.02,194.84 112.39,194.05 114.45,192.40 C116.51,190.75 116.25,187.00 116.25,187.00 C116.25,187.00 116.90,190.33 118.05,191.80 C119.20,193.27 120.09,194.12 122.50,195.00 C124.91,195.88 128.58,196.97 131.20,196.60 C133.82,196.23 135.49,195.24 136.80,193.00 C138.11,190.76 137.92,188.34 138.36,184.40 C138.80,180.46 139.20,171.50 139.20,171.50 C139.20,171.50 139.58,177.54 140.00,180.20 C140.43,182.86 140.71,184.39 141.50,186.00 C142.29,187.61 143.11,189.37 144.30,189.00 C145.49,188.63 147.10,185.61 148.00,184.00 C148.90,182.39 148.89,181.94 149.24,180.20 C149.58,178.46 149.90,174.50 149.90,174.50 C149.90,174.50 150.20,177.21 150.53,178.40 C150.86,179.59 151.26,180.74 151.70,181.00 C152.14,181.26 152.59,180.35 152.94,179.80 C153.28,179.25 153.60,178.00 153.60,178.00 C153.60,178.00 153.90,181.33 154.23,182.80 C154.56,184.27 154.84,185.05 155.40,186.00 C155.96,186.95 156.39,189.66 157.30,188.00 C158.21,186.34 159.49,182.00 160.36,176.92 C161.22,171.84 162.00,160.30 162.00,160.30 C162.00,160.30 162.30,163.51 162.63,164.92 C162.96,166.33 163.03,167.73 163.80,168.00 C164.57,168.27 165.99,167.13 166.86,166.40 C167.72,165.67 168.50,164.00 168.50,164.00 C168.50,164.00 168.97,171.00 169.48,174.08 C169.99,177.16 170.45,178.54 171.30,180.80 C172.15,183.06 172.28,187.46 174.10,186.40 C175.92,185.34 179.25,178.78 181.25,175.00 C183.25,171.22 183.98,170.02 185.00,165.80 C186.02,161.58 186.80,152.00 186.80,152.00 C186.80,152.00 187.59,162.42 188.60,167.00 C189.61,171.58 190.93,175.86 192.30,177.00 C193.68,178.14 194.89,174.57 196.10,173.20 C197.31,171.82 197.95,170.73 198.90,169.50 C199.85,168.27 200.63,167.88 201.31,166.50 C201.98,165.12 202.60,162.00 202.60,162.00 C202.60,162.00 203.22,162.42 203.90,162.60 C204.57,162.78 205.35,162.41 206.30,163.00 C207.25,163.59 207.89,163.58 209.10,165.80 C210.31,168.02 211.63,171.03 212.90,175.10 C214.17,179.17 214.70,182.88 216.00,188.00 C217.30,193.12 218.35,199.43 220.00,203.00 C221.65,206.57 221.72,206.31 225.00,207.50 C228.28,208.69 237.90,209.50 237.90,209.50" fill="none" stroke="#74be50" stroke-width="1.0" stroke-linejoin="round" stroke-linecap="round"/>
<path d="M243.75,203.75 C243.75,203.75 246.08,201.85 247.00,200.25 C247.92,198.65 248.75,195.00 248.75,195.00 C248.75,195.00 249.17,196.04 249.62,196.50 C250.08,196.96 248.89,200.30 251.25,197.50 C253.61,194.70 259.29,182.62 262.50,181.25 C265.71,179.88 266.92,185.65 268.75,190.00 C270.58,194.35 270.44,201.79 272.50,205.00 C274.56,208.21 277.25,206.58 280.00,207.50 C282.75,208.42 284.75,209.45 287.50,210.00 C290.25,210.55 295.00,210.50 295.00,210.50" fill="none" stroke="#74be50" stroke-width="1.0" stroke-linejoin="round" stroke-linecap="round"/>
<path d="M21.25,201.25 C21.25,201.25 23.58,200.71 24.50,200.25 C25.42,199.79 26.25,198.75 26.25,198.75 C26.25,198.75 26.88,199.35 27.56,199.62 C28.25,199.89 28.74,200.55 30.00,200.20 C31.26,199.85 33.30,198.86 34.45,197.72 C35.60,196.58 36.25,194.00 36.25,194.00 C36.25,194.00 37.04,195.98 37.91,196.85 C38.78,197.72 39.57,198.77 41.00,198.75 C42.43,198.73 44.51,197.67 45.70,196.75 C46.89,195.83 47.50,193.75 47.50,193.75 C47.50,193.75 48.29,195.94 49.30,196.90 C50.31,197.86 50.91,199.00 53.00,199.00 C55.09,199.00 58.96,197.86 60.70,196.90 C62.44,195.94 62.50,193.75 62.50,193.75 C62.50,193.75 63.12,195.19 63.81,195.82 C64.50,196.45 64.99,197.24 66.25,197.20 C67.51,197.16 69.55,196.33 70.70,195.60 C71.85,194.87 72.50,193.20 72.50,193.20 C72.50,193.20 72.92,195.51 74.30,196.53 C75.67,197.55 78.48,198.80 80.00,198.75 C81.52,198.70 81.87,197.40 82.60,196.25 C83.33,195.10 84.00,192.50 84.00,192.50 C84.00,192.50 84.58,193.33 85.22,193.70 C85.87,194.07 86.78,194.67 87.50,194.50 C88.22,194.33 88.67,193.57 89.12,192.78 C89.58,191.99 90.00,190.20 90.00,190.20 C90.00,190.20 90.83,192.12 91.75,192.96 C92.67,193.80 92.90,195.22 95.00,194.80 C97.10,194.38 101.37,192.57 103.20,190.68 C105.03,188.79 105.00,184.50 105.00,184.50 C105.00,184.50 105.62,187.31 106.31,188.55 C107.00,189.79 107.12,191.03 108.75,191.25 C110.38,191.47 113.69,190.44 115.20,189.75 C116.71,189.06 117.00,187.50 117.00,187.50 C117.00,187.50 117.50,188.12 118.05,188.40 C118.60,188.68 118.96,188.16 120.00,189.00 C121.04,189.84 121.65,191.99 123.70,193.00 C125.75,194.01 128.80,195.05 131.20,194.50 C133.60,193.95 135.49,192.32 136.80,190.00 C138.11,187.68 137.92,185.58 138.36,181.84 C138.80,178.10 139.20,169.60 139.20,169.60 C139.20,169.60 139.58,175.43 140.00,178.00 C140.43,180.57 140.71,182.06 141.50,183.60 C142.29,185.14 143.11,186.75 144.30,186.40 C145.49,186.05 147.10,183.31 148.00,181.70 C148.90,180.09 148.89,179.49 149.24,177.62 C149.58,175.75 149.90,171.50 149.90,171.50 C149.90,171.50 150.20,174.21 150.53,175.40 C150.86,176.59 151.26,177.79 151.70,178.00 C152.14,178.21 152.59,177.20 152.94,176.52 C153.28,175.84 153.60,174.30 153.60,174.30 C153.60,174.30 153.90,177.76 154.23,179.28 C154.56,180.80 154.84,181.48 155.40,182.60 C155.96,183.72 156.39,186.93 157.30,185.40 C158.21,183.87 159.49,179.36 160.36,174.24 C161.22,169.12 162.00,157.50 162.00,157.50 C162.00,157.50 162.30,160.58 162.63,161.94 C162.96,163.30 163.03,164.63 163.80,164.90 C164.57,165.17 165.99,164.10 166.86,163.42 C167.72,162.74 168.50,161.20 168.50,161.20 C168.50,161.20 168.97,167.41 169.48,170.14 C169.99,172.87 170.45,173.63 171.30,176.10 C172.15,178.57 172.28,185.18 174.10,183.60 C175.92,182.02 179.25,172.36 181.25,167.50 C183.25,162.64 183.98,161.87 185.00,157.10 C186.02,152.33 186.80,141.50 186.80,141.50 C186.80,141.50 187.57,154.33 188.41,159.98 C189.25,165.63 190.34,171.40 191.40,172.30 C192.46,173.20 193.17,166.61 194.20,164.90 C195.23,163.19 195.81,165.57 197.00,163.00 C198.19,160.43 199.32,153.63 200.70,150.90 C202.07,148.17 203.47,148.69 204.50,148.10 C205.53,147.51 205.81,147.88 206.32,147.70 C206.83,147.52 207.30,147.10 207.30,147.10 C207.30,147.10 207.60,147.89 207.93,148.24 C208.26,148.59 208.19,146.97 209.10,149.00 C210.01,151.03 211.73,154.35 212.90,159.30 C214.07,164.25 214.42,169.27 215.50,176.00 C216.58,182.73 217.32,190.87 218.80,196.00 C220.28,201.13 221.55,202.17 223.60,204.00 C225.65,205.83 227.38,205.45 230.00,206.00 C232.62,206.55 237.90,207.00 237.90,207.00" fill="none" stroke="#58a846" stroke-width="1.0" stroke-linejoin="round" stroke-linecap="round"/>
<path d="M243.75,190.00 C243.75,190.00 245.50,187.29 246.19,185.00 C246.88,182.71 247.50,177.50 247.50,177.50 C247.50,177.50 247.92,179.58 248.38,180.50 C248.83,181.42 248.33,183.05 250.00,182.50 C251.67,181.95 255.67,179.33 257.50,177.50 C259.33,175.67 258.99,174.79 260.00,172.50 C261.01,170.21 261.40,163.17 263.00,165.00 C264.60,166.83 267.01,177.00 268.75,182.50 C270.49,188.00 270.44,192.34 272.50,195.00 C274.56,197.66 277.48,196.08 280.00,197.00 C282.52,197.92 283.50,199.31 286.25,200.00 C289.00,200.69 295.00,200.75 295.00,200.75" fill="none" stroke="#58a846" stroke-width="1.0" stroke-linejoin="round" stroke-linecap="round"/>
<path d="M84.40,217.30 C84.40,217.30 86.17,220.69 87.20,221.20 C88.23,221.71 87.65,220.78 90.00,220.10 C92.35,219.42 97.57,218.12 100.00,217.50 C102.43,216.88 102.33,217.07 103.25,216.70 C104.17,216.33 105.00,215.50 105.00,215.50 C105.00,215.50 105.65,216.54 106.80,217.00 C107.95,217.46 109.71,218.72 111.25,218.00 C112.79,217.28 114.15,215.35 115.20,213.10 C116.25,210.85 117.00,205.75 117.00,205.75 C117.00,205.75 117.50,208.56 118.05,209.80 C118.60,211.04 118.73,211.55 120.00,212.50 C121.27,213.45 122.71,214.45 125.00,215.00 C127.29,215.55 130.08,216.45 132.50,215.50 C134.92,214.55 136.82,212.41 138.20,209.80 C139.57,207.19 140.00,201.25 140.00,201.25 C140.00,201.25 140.50,202.81 141.05,203.50 C141.60,204.19 141.69,205.09 143.00,205.00 C144.31,204.91 146.92,203.92 148.20,203.00 C149.48,202.08 150.00,200.00 150.00,200.00 C150.00,200.00 150.79,202.29 151.80,203.30 C152.81,204.31 153.87,205.87 155.50,205.50 C157.13,205.13 159.42,203.23 160.70,201.30 C161.98,199.38 162.50,195.00 162.50,195.00 C162.50,195.00 163.07,198.21 163.69,199.62 C164.31,201.03 164.98,201.95 165.90,202.70 C166.82,203.45 167.51,201.13 168.70,203.70 C169.89,206.27 170.69,216.02 172.40,216.70 C174.11,217.38 175.79,210.29 178.00,207.40 C180.21,204.51 182.94,203.90 184.45,200.94 C185.96,197.98 186.25,191.25 186.25,191.25 C186.25,191.25 186.68,198.02 188.05,201.00 C189.43,203.98 191.33,208.60 193.75,207.50 C196.17,206.40 199.31,197.34 201.25,195.00 C203.19,192.66 203.47,194.85 204.34,194.72 C205.21,194.59 206.00,194.30 206.00,194.30 C206.00,194.30 206.62,195.09 207.29,195.44 C207.97,195.79 208.56,194.45 209.70,196.20 C210.84,197.95 212.12,201.57 213.50,205.00 C214.88,208.43 215.84,211.60 217.20,214.90 C218.56,218.20 218.85,221.13 220.90,223.00 C222.95,224.87 225.67,224.37 228.40,225.10 C231.13,225.83 233.90,226.14 235.80,227.00 C237.70,227.86 238.75,229.80 238.75,229.80" fill="none" stroke="#cc5cb6" stroke-width="2.4" stroke-linejoin="round" stroke-linecap="round" opacity="0.8"/>
<path d="M243.75,222.50 C243.75,222.50 246.92,219.90 248.75,218.75 C250.58,217.60 251.23,219.46 253.75,216.25 C256.27,213.04 259.75,202.40 262.50,201.25 C265.25,200.10 266.69,205.19 268.75,210.00 C270.81,214.81 271.69,223.93 273.75,227.50 C275.81,231.07 277.71,228.22 280.00,229.50 C282.29,230.78 283.50,233.58 286.25,234.50 C289.00,235.42 295.00,234.50 295.00,234.50" fill="none" stroke="#cc5cb6" stroke-width="2.4" stroke-linejoin="round" stroke-linecap="round" opacity="0.8"/>
<path d="M21.25,234.50 C21.25,234.50 24.80,233.31 26.00,232.30 C27.20,231.29 27.80,229.00 27.80,229.00 C27.80,229.00 28.27,230.67 28.78,231.40 C29.29,232.13 29.46,233.08 30.60,233.00 C31.74,232.92 33.86,231.90 35.00,230.96 C36.14,230.03 36.80,227.90 36.80,227.90 C36.80,227.90 37.08,228.15 37.39,228.26 C37.71,228.37 37.90,228.79 38.50,228.50 C39.10,228.21 40.04,227.52 40.64,226.70 C41.25,225.88 41.80,224.00 41.80,224.00 C41.80,224.00 42.18,226.58 42.60,227.72 C43.03,228.86 43.36,229.95 44.10,230.20 C44.84,230.45 45.92,229.59 46.63,229.08 C47.35,228.57 48.00,227.40 48.00,227.40 C48.00,227.40 48.57,229.48 49.19,230.40 C49.81,231.32 49.97,232.24 51.40,232.40 C52.83,232.56 55.45,231.75 57.00,231.30 C58.55,230.85 59.05,230.56 59.86,229.94 C60.67,229.32 61.40,227.90 61.40,227.90 C61.40,227.90 61.97,228.61 62.59,228.92 C63.21,229.23 63.99,229.72 64.80,229.60 C65.61,229.48 66.39,228.86 67.01,228.24 C67.63,227.62 68.20,226.20 68.20,226.20 C68.20,226.20 68.93,226.70 69.74,226.92 C70.55,227.14 71.25,227.42 72.60,227.40 C73.95,227.38 75.45,227.62 77.10,226.80 C78.75,225.98 80.44,224.03 81.60,222.90 C82.76,221.77 82.91,221.69 83.42,220.66 C83.93,219.63 84.40,217.30 84.40,217.30 C84.40,217.30 84.87,218.92 85.38,219.64 C85.89,220.35 86.35,221.12 87.20,221.20 C88.05,221.28 87.65,220.78 90.00,220.10 C92.35,219.42 97.57,218.12 100.00,217.50 C102.43,216.88 102.33,217.07 103.25,216.70 C104.17,216.33 105.00,215.50 105.00,215.50 C105.00,215.50 105.65,216.54 106.80,217.00 C107.95,217.46 109.71,218.72 111.25,218.00 C112.79,217.28 114.15,215.35 115.20,213.10 C116.25,210.85 117.00,205.75 117.00,205.75 C117.00,205.75 117.50,208.56 118.05,209.80 C118.60,211.04 118.73,211.55 120.00,212.50 C121.27,213.45 122.71,214.45 125.00,215.00 C127.29,215.55 130.08,216.45 132.50,215.50 C134.92,214.55 136.82,212.41 138.20,209.80 C139.57,207.19 140.00,201.25 140.00,201.25 C140.00,201.25 140.50,202.81 141.05,203.50 C141.60,204.19 141.69,205.09 143.00,205.00 C144.31,204.91 146.92,203.92 148.20,203.00 C149.48,202.08 150.00,200.00 150.00,200.00 C150.00,200.00 150.79,202.29 151.80,203.30 C152.81,204.31 153.87,205.87 155.50,205.50 C157.13,205.13 159.42,203.23 160.70,201.30 C161.98,199.38 162.50,195.00 162.50,195.00 C162.50,195.00 163.07,198.21 163.69,199.62 C164.31,201.03 164.98,201.95 165.90,202.70 C166.82,203.45 167.51,201.13 168.70,203.70 C169.89,206.27 170.69,216.02 172.40,216.70 C174.11,217.38 175.79,210.29 178.00,207.40 C180.21,204.51 182.94,203.90 184.45,200.94 C185.96,197.98 186.25,191.25 186.25,191.25 C186.25,191.25 186.68,198.02 188.05,201.00 C189.43,203.98 191.33,208.60 193.75,207.50 C196.17,206.40 199.31,197.34 201.25,195.00 C203.19,192.66 203.47,194.85 204.34,194.72 C205.21,194.59 206.00,194.30 206.00,194.30 C206.00,194.30 206.62,195.09 207.29,195.44 C207.97,195.79 208.56,194.45 209.70,196.20 C210.84,197.95 212.12,201.57 213.50,205.00 C214.88,208.43 215.84,211.60 217.20,214.90 C218.56,218.20 218.85,221.13 220.90,223.00 C222.95,224.87 225.67,224.37 228.40,225.10 C231.13,225.83 233.90,226.14 235.80,227.00 C237.70,227.86 238.75,229.80 238.75,229.80" fill="none" stroke="#bf3aa6" stroke-width="1.25" stroke-linejoin="round" stroke-linecap="round"/>
<path d="M243.75,222.50 C243.75,222.50 246.92,219.90 248.75,218.75 C250.58,217.60 251.23,219.46 253.75,216.25 C256.27,213.04 259.75,202.40 262.50,201.25 C265.25,200.10 266.69,205.19 268.75,210.00 C270.81,214.81 271.69,223.93 273.75,227.50 C275.81,231.07 277.71,228.22 280.00,229.50 C282.29,230.78 283.50,233.58 286.25,234.50 C289.00,235.42 295.00,234.50 295.00,234.50" fill="none" stroke="#bf3aa6" stroke-width="1.25" stroke-linejoin="round" stroke-linecap="round"/>
<text transform="translate(23,78.9) scale(0.8,1)" font-size="7.2" text-anchor="start" font-weight="normal" fill="#1a1a1a" >vCH<tspan baseline-shift="-40%" font-size="70%">2</tspan></text>
<text transform="translate(36.4,74.4) scale(0.8,1)" font-size="7.2" text-anchor="start" font-weight="normal" fill="#1a1a1a" >vCOO</text>
<text transform="translate(51.8,88.0) scale(0.8,1)" font-size="7.2" text-anchor="start" font-weight="normal" fill="#1a1a1a" >vS-H</text>
<text transform="translate(73.8,79.7) scale(0.8,1)" font-size="7.2" text-anchor="start" font-weight="normal" fill="#1a1a1a" >v<tspan font-weight="bold">SO</tspan></text>
<text transform="translate(90,79.7) scale(0.8,1)" font-size="7.2" text-anchor="start" font-weight="normal" fill="#1a1a1a" >vNH<tspan baseline-shift="-40%" font-size="70%">3</tspan></text>
<text transform="translate(124.2,51.800000000000004) scale(0.8,1)" font-size="7.2" text-anchor="start" font-weight="normal" fill="#1a1a1a" >vCH<tspan baseline-shift="-40%" font-size="70%">2</tspan></text>
<text transform="translate(143.5,43.400000000000006) scale(0.8,1)" font-size="7.2" text-anchor="start" font-weight="normal" fill="#1a1a1a" >vNH<tspan baseline-shift="-40%" font-size="70%">3</tspan></text>
<text transform="translate(166.2,37.5) scale(0.8,1)" font-size="7.2" text-anchor="start" font-weight="normal" fill="#1a1a1a" >vCH<tspan baseline-shift="-40%" font-size="70%">2</tspan></text>
<text transform="translate(192.3,27.599999999999998) scale(0.86,1)" font-size="6.4" text-anchor="start" font-weight="bold" fill="#111" >δNH<tspan baseline-shift="-40%" font-size="70%">2s</tspan></text>
<text transform="translate(192.3,35.6) scale(0.86,1)" font-size="6.4" text-anchor="start" font-weight="bold" fill="#111" >δCO</text>
<text transform="translate(247,52.2) scale(0.8,1)" font-size="7.2" text-anchor="start" font-weight="normal" fill="#1a1a1a" >v<tspan font-weight="bold">SH</tspan></text>
<text transform="translate(262.5,57.2) scale(0.8,1)" font-size="7.2" text-anchor="start" font-weight="normal" fill="#1a1a1a" >vCH</text>
<text transform="translate(36,214.7) scale(0.8,1)" font-size="7.2" text-anchor="start" font-weight="normal" fill="#1a1a1a" >v<tspan font-weight="bold">N-O</tspan></text>
<text transform="translate(64,214.79999999999998) scale(0.8,1)" font-size="7.2" text-anchor="start" font-weight="normal" fill="#1a1a1a" >vN-O</text>
<text transform="translate(90,234.6) scale(0.8,1)" font-size="7.2" text-anchor="start" font-weight="normal" fill="#1a1a1a" >vC-O</text>
<text transform="translate(223.8,217.39999999999998) scale(0.8,1)" font-size="7.2" text-anchor="start" font-weight="normal" fill="#1a1a1a" >v<tspan font-weight="bold">C=O</tspan></text>
<text transform="translate(280,220.39999999999998) scale(0.8,1)" font-size="7.2" text-anchor="start" font-weight="normal" fill="#1a1a1a" >v<tspan font-weight="bold">OH</tspan></text>
<g stroke="#1a1a1a" stroke-width="0.8">
<line x1="29.5" y1="82.2" x2="26.7" y2="92.9"/>
<line x1="41.3" y1="77" x2="35.7" y2="89.5"/>
<line x1="57" y1="89" x2="62" y2="94"/>
<line x1="78.8" y1="81.5" x2="83.8" y2="95.1"/>
<line x1="95.8" y1="82" x2="91.2" y2="92.6"/>
<line x1="130.5" y1="54.5" x2="137.5" y2="66"/>
<line x1="150.5" y1="45.5" x2="150.5" y2="69"/>
<line x1="173" y1="39.4" x2="168.7" y2="59.5"/>
<line x1="192.3" y1="37.4" x2="218.3" y2="37.4"/>
<line x1="251" y1="54.5" x2="248.75" y2="65"/>
<line x1="265" y1="60" x2="262.5" y2="62"/>
<line x1="42.5" y1="217.5" x2="42" y2="221"/>
<line x1="68.75" y1="216" x2="68" y2="225"/>
<line x1="96" y1="222.5" x2="96" y2="227.5"/>
<line x1="231" y1="219.5" x2="233.75" y2="222.5"/>
<line x1="283.75" y1="222.5" x2="280" y2="228"/>
</g>
<text x="318.0" y="13.9" font-size="16.2" text-anchor="start" font-weight="normal" fill="#222" >B</text>
<g stroke="#1a1a1a" stroke-width="1" fill="none">
<line x1="353.3" y1="24.40" x2="353.3" y2="226.60"/>
<line x1="348.6" y1="226.60" x2="659" y2="226.60"/>
<line x1="348.6" y1="226.60" x2="353.3" y2="226.60"/>
<line x1="350.90000000000003" y1="206.31" x2="353.3" y2="206.31"/>
<line x1="350.90000000000003" y1="194.44" x2="353.3" y2="194.44"/>
<line x1="350.90000000000003" y1="186.02" x2="353.3" y2="186.02"/>
<line x1="350.90000000000003" y1="179.49" x2="353.3" y2="179.49"/>
<line x1="350.90000000000003" y1="174.15" x2="353.3" y2="174.15"/>
<line x1="350.90000000000003" y1="169.64" x2="353.3" y2="169.64"/>
<line x1="350.90000000000003" y1="165.73" x2="353.3" y2="165.73"/>
<line x1="350.90000000000003" y1="162.28" x2="353.3" y2="162.28"/>
<line x1="348.6" y1="159.20" x2="353.3" y2="159.20"/>
<line x1="350.90000000000003" y1="138.91" x2="353.3" y2="138.91"/>
<line x1="350.90000000000003" y1="127.04" x2="353.3" y2="127.04"/>
<line x1="350.90000000000003" y1="118.62" x2="353.3" y2="118.62"/>
<line x1="350.90000000000003" y1="112.09" x2="353.3" y2="112.09"/>
<line x1="350.90000000000003" y1="106.75" x2="353.3" y2="106.75"/>
<line x1="350.90000000000003" y1="102.24" x2="353.3" y2="102.24"/>
<line x1="350.90000000000003" y1="98.33" x2="353.3" y2="98.33"/>
<line x1="350.90000000000003" y1="94.88" x2="353.3" y2="94.88"/>
<line x1="348.6" y1="91.80" x2="353.3" y2="91.80"/>
<line x1="350.90000000000003" y1="71.51" x2="353.3" y2="71.51"/>
<line x1="350.90000000000003" y1="59.64" x2="353.3" y2="59.64"/>
<line x1="350.90000000000003" y1="51.22" x2="353.3" y2="51.22"/>
<line x1="350.90000000000003" y1="44.69" x2="353.3" y2="44.69"/>
<line x1="350.90000000000003" y1="39.35" x2="353.3" y2="39.35"/>
<line x1="350.90000000000003" y1="34.84" x2="353.3" y2="34.84"/>
<line x1="350.90000000000003" y1="30.93" x2="353.3" y2="30.93"/>
<line x1="350.90000000000003" y1="27.48" x2="353.3" y2="27.48"/>
<line x1="348.6" y1="24.40" x2="353.3" y2="24.40"/>
</g>
<text x="347.9" y="27.50" font-size="8.8" text-anchor="end" font-weight="normal" fill="#1a1a1a" >10</text>
<text x="347.9" y="94.90" font-size="8.8" text-anchor="end" font-weight="normal" fill="#1a1a1a" >1</text>
<text x="347.9" y="162.30" font-size="8.8" text-anchor="end" font-weight="normal" fill="#1a1a1a" >0.1</text>
<text x="347.9" y="229.70" font-size="8.8" text-anchor="end" font-weight="normal" fill="#1a1a1a" >0.01</text>
<text transform="translate(326.6,219) rotate(-90)" x="0" y="0" font-size="11.8" fill="#222" textLength="162" lengthAdjust="spacingAndGlyphs">rel. area under curve / arb. unit</text>
<rect x="358.30" y="178.80" width="5.12" height="47.80" fill="#000000"/>
<rect x="358.30" y="178.80" width="5.12" height="47.80" fill="none" stroke="#111" stroke-width="0.6"/>
<g stroke="#222" stroke-width="0.65"><line x1="360.86" y1="171.40" x2="360.86" y2="186.20" stroke="#666" stroke-width="0.55"/><line x1="359.06" y1="171.40" x2="362.66" y2="171.40"/><line x1="359.06" y1="186.20" x2="362.66" y2="186.20"/></g>
<rect x="363.42" y="178.30" width="5.12" height="48.30" fill="#e8401c"/>
<rect x="363.42" y="178.30" width="5.12" height="48.30" fill="none" stroke="#111" stroke-width="0.6"/>
<g stroke="#222" stroke-width="0.65"><line x1="365.98" y1="177.00" x2="365.98" y2="179.60" stroke="#666" stroke-width="0.55"/><line x1="364.18" y1="177.00" x2="367.78" y2="177.00"/><line x1="364.18" y1="179.60" x2="367.78" y2="179.60"/></g>
<rect x="368.54" y="171.40" width="5.12" height="55.20" fill="#e8401c"/>
<rect x="368.54" y="171.40" width="5.12" height="55.20" fill="url(#hatch)"/>
<rect x="368.54" y="171.40" width="5.12" height="55.20" fill="none" stroke="#111" stroke-width="0.6"/>
<g stroke="#222" stroke-width="0.65"><line x1="371.10" y1="170.40" x2="371.10" y2="172.40" stroke="#666" stroke-width="0.55"/><line x1="369.30" y1="170.40" x2="372.90" y2="170.40"/><line x1="369.30" y1="172.40" x2="372.90" y2="172.40"/></g>
<rect x="373.66" y="168.20" width="5.12" height="58.40" fill="#3f1e8c"/>
<rect x="373.66" y="168.20" width="5.12" height="58.40" fill="none" stroke="#111" stroke-width="0.6"/>
<g stroke="#222" stroke-width="0.65"><line x1="376.22" y1="162.60" x2="376.22" y2="173.80" stroke="#666" stroke-width="0.55"/><line x1="374.42" y1="162.60" x2="378.02" y2="162.60"/><line x1="374.42" y1="173.80" x2="378.02" y2="173.80"/></g>
<rect x="378.78" y="163.90" width="5.12" height="62.70" fill="#3f1e8c"/>
<rect x="378.78" y="163.90" width="5.12" height="62.70" fill="url(#hatch)"/>
<rect x="378.78" y="163.90" width="5.12" height="62.70" fill="none" stroke="#111" stroke-width="0.6"/>
<g stroke="#222" stroke-width="0.65"><line x1="381.34" y1="158.30" x2="381.34" y2="169.50" stroke="#666" stroke-width="0.55"/><line x1="379.54" y1="158.30" x2="383.14" y2="158.30"/><line x1="379.54" y1="169.50" x2="383.14" y2="169.50"/></g>
<rect x="383.90" y="176.40" width="5.12" height="50.20" fill="#2e8a2e"/>
<rect x="383.90" y="176.40" width="5.12" height="50.20" fill="none" stroke="#111" stroke-width="0.6"/>
<g stroke="#222" stroke-width="0.65"><line x1="386.46" y1="167.60" x2="386.46" y2="185.20" stroke="#666" stroke-width="0.55"/><line x1="384.66" y1="167.60" x2="388.26" y2="167.60"/><line x1="384.66" y1="185.20" x2="388.26" y2="185.20"/></g>
<rect x="389.02" y="164.90" width="5.12" height="61.70" fill="#2e8a2e"/>
<rect x="389.02" y="164.90" width="5.12" height="61.70" fill="url(#hatch)"/>
<rect x="389.02" y="164.90" width="5.12" height="61.70" fill="none" stroke="#111" stroke-width="0.6"/>
<g stroke="#222" stroke-width="0.65"><line x1="391.58" y1="162.60" x2="391.58" y2="167.20" stroke="#666" stroke-width="0.55"/><line x1="389.78" y1="162.60" x2="393.38" y2="162.60"/><line x1="389.78" y1="167.20" x2="393.38" y2="167.20"/></g>
<rect x="394.14" y="145.30" width="5.12" height="81.30" fill="#9a2aa0"/>
<rect x="394.14" y="145.30" width="5.12" height="81.30" fill="url(#hatch)"/>
<rect x="394.14" y="145.30" width="5.12" height="81.30" fill="none" stroke="#111" stroke-width="0.6"/>
<g stroke="#222" stroke-width="0.65"><line x1="396.70" y1="140.60" x2="396.70" y2="150.00" stroke="#666" stroke-width="0.55"/><line x1="394.90" y1="140.60" x2="398.50" y2="140.60"/><line x1="394.90" y1="150.00" x2="398.50" y2="150.00"/></g>
<line x1="378.78" y1="226.60" x2="378.78" y2="229.60" stroke="#111" stroke-width="1"/>
<rect x="409.14" y="66.00" width="5.12" height="160.60" fill="#000000"/>
<rect x="409.14" y="66.00" width="5.12" height="160.60" fill="none" stroke="#111" stroke-width="0.6"/>
<g stroke="#222" stroke-width="0.65"><line x1="411.70" y1="64.50" x2="411.70" y2="67.50" stroke="#666" stroke-width="0.55"/><line x1="409.90" y1="64.50" x2="413.50" y2="64.50"/><line x1="409.90" y1="67.50" x2="413.50" y2="67.50"/></g>
<rect x="414.26" y="70.40" width="5.12" height="156.20" fill="#e8401c"/>
<rect x="414.26" y="70.40" width="5.12" height="156.20" fill="none" stroke="#111" stroke-width="0.6"/>
<rect x="419.38" y="74.90" width="5.12" height="151.70" fill="#e8401c"/>
<rect x="419.38" y="74.90" width="5.12" height="151.70" fill="url(#hatch)"/>
<rect x="419.38" y="74.90" width="5.12" height="151.70" fill="none" stroke="#111" stroke-width="0.6"/>
<g stroke="#222" stroke-width="0.65"><line x1="421.94" y1="71.20" x2="421.94" y2="78.60" stroke="#666" stroke-width="0.55"/><line x1="420.14" y1="71.20" x2="423.74" y2="71.20"/><line x1="420.14" y1="78.60" x2="423.74" y2="78.60"/></g>
<rect x="424.50" y="70.40" width="5.12" height="156.20" fill="#3f1e8c"/>
<rect x="424.50" y="70.40" width="5.12" height="156.20" fill="none" stroke="#111" stroke-width="0.6"/>
<g stroke="#222" stroke-width="0.65"><line x1="427.06" y1="65.20" x2="427.06" y2="75.60" stroke="#666" stroke-width="0.55"/><line x1="425.26" y1="65.20" x2="428.86" y2="65.20"/><line x1="425.26" y1="75.60" x2="428.86" y2="75.60"/></g>
<rect x="429.62" y="76.70" width="5.12" height="149.90" fill="#3f1e8c"/>
<rect x="429.62" y="76.70" width="5.12" height="149.90" fill="url(#hatch)"/>
<rect x="429.62" y="76.70" width="5.12" height="149.90" fill="none" stroke="#111" stroke-width="0.6"/>
<g stroke="#222" stroke-width="0.65"><line x1="432.18" y1="74.90" x2="432.18" y2="78.50" stroke="#666" stroke-width="0.55"/><line x1="430.38" y1="74.90" x2="433.98" y2="74.90"/><line x1="430.38" y1="78.50" x2="433.98" y2="78.50"/></g>
<rect x="434.74" y="72.70" width="5.12" height="153.90" fill="#2e8a2e"/>
<rect x="434.74" y="72.70" width="5.12" height="153.90" fill="none" stroke="#111" stroke-width="0.6"/>
<g stroke="#222" stroke-width="0.65"><line x1="437.30" y1="67.20" x2="437.30" y2="78.20" stroke="#666" stroke-width="0.55"/><line x1="435.50" y1="67.20" x2="439.10" y2="67.20"/><line x1="435.50" y1="78.20" x2="439.10" y2="78.20"/></g>
<rect x="439.86" y="74.90" width="5.12" height="151.70" fill="#2e8a2e"/>
<rect x="439.86" y="74.90" width="5.12" height="151.70" fill="url(#hatch)"/>
<rect x="439.86" y="74.90" width="5.12" height="151.70" fill="none" stroke="#111" stroke-width="0.6"/>
<g stroke="#222" stroke-width="0.65"><line x1="442.42" y1="73.40" x2="442.42" y2="76.40" stroke="#666" stroke-width="0.55"/><line x1="440.62" y1="73.40" x2="444.22" y2="73.40"/><line x1="440.62" y1="76.40" x2="444.22" y2="76.40"/></g>
<rect x="444.98" y="86.10" width="5.12" height="140.50" fill="#9a2aa0"/>
<rect x="444.98" y="86.10" width="5.12" height="140.50" fill="url(#hatch)"/>
<rect x="444.98" y="86.10" width="5.12" height="140.50" fill="none" stroke="#111" stroke-width="0.6"/>
<g stroke="#222" stroke-width="0.65"><line x1="447.54" y1="83.90" x2="447.54" y2="88.30" stroke="#666" stroke-width="0.55"/><line x1="445.74" y1="83.90" x2="449.34" y2="83.90"/><line x1="445.74" y1="88.30" x2="449.34" y2="88.30"/></g>
<line x1="429.62" y1="226.60" x2="429.62" y2="229.60" stroke="#111" stroke-width="1"/>
<rect x="459.98" y="195.75" width="5.12" height="30.85" fill="#000000"/>
<rect x="459.98" y="195.75" width="5.12" height="30.85" fill="none" stroke="#111" stroke-width="0.6"/>
<g stroke="#222" stroke-width="0.65"><line x1="462.54" y1="188.75" x2="462.54" y2="202.75" stroke="#666" stroke-width="0.55"/><line x1="460.74" y1="188.75" x2="464.34" y2="188.75"/><line x1="460.74" y1="202.75" x2="464.34" y2="202.75"/></g>
<rect x="465.10" y="202.00" width="5.12" height="24.60" fill="#e8401c"/>
<rect x="465.10" y="202.00" width="5.12" height="24.60" fill="none" stroke="#111" stroke-width="0.6"/>
<g stroke="#222" stroke-width="0.65"><line x1="467.66" y1="195.00" x2="467.66" y2="209.00" stroke="#666" stroke-width="0.55"/><line x1="465.86" y1="195.00" x2="469.46" y2="195.00"/><line x1="465.86" y1="209.00" x2="469.46" y2="209.00"/></g>
<rect x="470.22" y="171.50" width="5.12" height="55.10" fill="#e8401c"/>
<rect x="470.22" y="171.50" width="5.12" height="55.10" fill="url(#hatch)"/>
<rect x="470.22" y="171.50" width="5.12" height="55.10" fill="none" stroke="#111" stroke-width="0.6"/>
<rect x="475.34" y="212.00" width="5.12" height="14.60" fill="#3f1e8c"/>
<rect x="475.34" y="212.00" width="5.12" height="14.60" fill="none" stroke="#111" stroke-width="0.6"/>
<g stroke="#222" stroke-width="0.65"><line x1="477.90" y1="203.75" x2="477.90" y2="220.25" stroke="#666" stroke-width="0.55"/><line x1="476.10" y1="203.75" x2="479.70" y2="203.75"/><line x1="476.10" y1="220.25" x2="479.70" y2="220.25"/></g>
<rect x="480.46" y="181.75" width="5.12" height="44.85" fill="#3f1e8c"/>
<rect x="480.46" y="181.75" width="5.12" height="44.85" fill="url(#hatch)"/>
<rect x="480.46" y="181.75" width="5.12" height="44.85" fill="none" stroke="#111" stroke-width="0.6"/>
<g stroke="#222" stroke-width="0.65"><line x1="483.02" y1="178.75" x2="483.02" y2="184.75" stroke="#666" stroke-width="0.55"/><line x1="481.22" y1="178.75" x2="484.82" y2="178.75"/><line x1="481.22" y1="184.75" x2="484.82" y2="184.75"/></g>
<rect x="485.58" y="221.25" width="5.12" height="5.35" fill="#2e8a2e"/>
<rect x="485.58" y="221.25" width="5.12" height="5.35" fill="none" stroke="#111" stroke-width="0.6"/>
<rect x="490.70" y="154.25" width="5.12" height="72.35" fill="#2e8a2e"/>
<rect x="490.70" y="154.25" width="5.12" height="72.35" fill="url(#hatch)"/>
<rect x="490.70" y="154.25" width="5.12" height="72.35" fill="none" stroke="#111" stroke-width="0.6"/>
<rect x="495.82" y="156.75" width="5.12" height="69.85" fill="#9a2aa0"/>
<rect x="495.82" y="156.75" width="5.12" height="69.85" fill="url(#hatch)"/>
<rect x="495.82" y="156.75" width="5.12" height="69.85" fill="none" stroke="#111" stroke-width="0.6"/>
<g stroke="#222" stroke-width="0.65"><line x1="498.38" y1="155.50" x2="498.38" y2="158.00" stroke="#666" stroke-width="0.55"/><line x1="496.58" y1="155.50" x2="500.18" y2="155.50"/><line x1="496.58" y1="158.00" x2="500.18" y2="158.00"/></g>
<line x1="480.46" y1="226.60" x2="480.46" y2="229.60" stroke="#111" stroke-width="1"/>
<rect x="510.82" y="218.00" width="5.12" height="8.60" fill="#000000"/>
<rect x="510.82" y="218.00" width="5.12" height="8.60" fill="none" stroke="#111" stroke-width="0.6"/>
<g stroke="#222" stroke-width="0.65"><line x1="513.38" y1="185.50" x2="513.38" y2="226.60" stroke="#666" stroke-width="0.55"/><line x1="511.58" y1="185.50" x2="515.18" y2="185.50"/><line x1="511.58" y1="226.60" x2="515.18" y2="226.60"/></g>
<rect x="515.94" y="115.50" width="5.12" height="111.10" fill="#e8401c"/>
<rect x="515.94" y="115.50" width="5.12" height="111.10" fill="none" stroke="#111" stroke-width="0.6"/>
<g stroke="#222" stroke-width="0.65"><line x1="518.50" y1="111.25" x2="518.50" y2="119.75" stroke="#666" stroke-width="0.55"/><line x1="516.70" y1="111.25" x2="520.30" y2="111.25"/><line x1="516.70" y1="119.75" x2="520.30" y2="119.75"/></g>
<rect x="521.06" y="75.50" width="5.12" height="151.10" fill="#e8401c"/>
<rect x="521.06" y="75.50" width="5.12" height="151.10" fill="url(#hatch)"/>
<rect x="521.06" y="75.50" width="5.12" height="151.10" fill="none" stroke="#111" stroke-width="0.6"/>
<g stroke="#222" stroke-width="0.65"><line x1="523.62" y1="73.00" x2="523.62" y2="78.00" stroke="#666" stroke-width="0.55"/><line x1="521.82" y1="73.00" x2="525.42" y2="73.00"/><line x1="521.82" y1="78.00" x2="525.42" y2="78.00"/></g>
<rect x="526.18" y="135.50" width="5.12" height="91.10" fill="#3f1e8c"/>
<rect x="526.18" y="135.50" width="5.12" height="91.10" fill="none" stroke="#111" stroke-width="0.6"/>
<g stroke="#222" stroke-width="0.65"><line x1="528.74" y1="129.25" x2="528.74" y2="141.75" stroke="#666" stroke-width="0.55"/><line x1="526.94" y1="129.25" x2="530.54" y2="129.25"/><line x1="526.94" y1="141.75" x2="530.54" y2="141.75"/></g>
<rect x="531.30" y="78.00" width="5.12" height="148.60" fill="#3f1e8c"/>
<rect x="531.30" y="78.00" width="5.12" height="148.60" fill="url(#hatch)"/>
<rect x="531.30" y="78.00" width="5.12" height="148.60" fill="none" stroke="#111" stroke-width="0.6"/>
<g stroke="#222" stroke-width="0.65"><line x1="533.86" y1="77.00" x2="533.86" y2="79.00" stroke="#666" stroke-width="0.55"/><line x1="532.06" y1="77.00" x2="535.66" y2="77.00"/><line x1="532.06" y1="79.00" x2="535.66" y2="79.00"/></g>
<rect x="536.42" y="147.00" width="5.12" height="79.60" fill="#2e8a2e"/>
<rect x="536.42" y="147.00" width="5.12" height="79.60" fill="none" stroke="#111" stroke-width="0.6"/>
<g stroke="#222" stroke-width="0.65"><line x1="538.98" y1="135.50" x2="538.98" y2="158.50" stroke="#666" stroke-width="0.55"/><line x1="537.18" y1="135.50" x2="540.78" y2="135.50"/><line x1="537.18" y1="158.50" x2="540.78" y2="158.50"/></g>
<rect x="541.54" y="80.00" width="5.12" height="146.60" fill="#2e8a2e"/>
<rect x="541.54" y="80.00" width="5.12" height="146.60" fill="url(#hatch)"/>
<rect x="541.54" y="80.00" width="5.12" height="146.60" fill="none" stroke="#111" stroke-width="0.6"/>
<g stroke="#222" stroke-width="0.65"><line x1="544.10" y1="79.00" x2="544.10" y2="81.00" stroke="#666" stroke-width="0.55"/><line x1="542.30" y1="79.00" x2="545.90" y2="79.00"/><line x1="542.30" y1="81.00" x2="545.90" y2="81.00"/></g>
<rect x="546.66" y="83.00" width="5.12" height="143.60" fill="#9a2aa0"/>
<rect x="546.66" y="83.00" width="5.12" height="143.60" fill="url(#hatch)"/>
<rect x="546.66" y="83.00" width="5.12" height="143.60" fill="none" stroke="#111" stroke-width="0.6"/>
<g stroke="#222" stroke-width="0.65"><line x1="549.22" y1="82.00" x2="549.22" y2="84.00" stroke="#666" stroke-width="0.55"/><line x1="547.42" y1="82.00" x2="551.02" y2="82.00"/><line x1="547.42" y1="84.00" x2="551.02" y2="84.00"/></g>
<line x1="531.30" y1="226.60" x2="531.30" y2="229.60" stroke="#111" stroke-width="1"/>
<rect x="561.66" y="76.75" width="5.12" height="149.85" fill="#000000"/>
<rect x="561.66" y="76.75" width="5.12" height="149.85" fill="none" stroke="#111" stroke-width="0.6"/>
<g stroke="#222" stroke-width="0.65"><line x1="564.22" y1="74.25" x2="564.22" y2="79.25" stroke="#666" stroke-width="0.55"/><line x1="562.42" y1="74.25" x2="566.02" y2="74.25"/><line x1="562.42" y1="79.25" x2="566.02" y2="79.25"/></g>
<rect x="566.78" y="111.25" width="5.12" height="115.35" fill="#e8401c"/>
<rect x="566.78" y="111.25" width="5.12" height="115.35" fill="none" stroke="#111" stroke-width="0.6"/>
<g stroke="#222" stroke-width="0.65"><line x1="569.34" y1="107.00" x2="569.34" y2="115.50" stroke="#666" stroke-width="0.55"/><line x1="567.54" y1="107.00" x2="571.14" y2="107.00"/><line x1="567.54" y1="115.50" x2="571.14" y2="115.50"/></g>
<rect x="571.90" y="193.75" width="5.12" height="32.85" fill="#e8401c"/>
<rect x="571.90" y="193.75" width="5.12" height="32.85" fill="url(#hatch)"/>
<rect x="571.90" y="193.75" width="5.12" height="32.85" fill="none" stroke="#111" stroke-width="0.6"/>
<g stroke="#222" stroke-width="0.65"><line x1="574.46" y1="188.00" x2="574.46" y2="199.50" stroke="#666" stroke-width="0.55"/><line x1="572.66" y1="188.00" x2="576.26" y2="188.00"/><line x1="572.66" y1="199.50" x2="576.26" y2="199.50"/></g>
<rect x="577.02" y="104.25" width="5.12" height="122.35" fill="#3f1e8c"/>
<rect x="577.02" y="104.25" width="5.12" height="122.35" fill="none" stroke="#111" stroke-width="0.6"/>
<g stroke="#222" stroke-width="0.65"><line x1="579.58" y1="96.25" x2="579.58" y2="112.25" stroke="#666" stroke-width="0.55"/><line x1="577.78" y1="96.25" x2="581.38" y2="96.25"/><line x1="577.78" y1="112.25" x2="581.38" y2="112.25"/></g>
<rect x="582.14" y="170.50" width="5.12" height="56.10" fill="#3f1e8c"/>
<rect x="582.14" y="170.50" width="5.12" height="56.10" fill="url(#hatch)"/>
<rect x="582.14" y="170.50" width="5.12" height="56.10" fill="none" stroke="#111" stroke-width="0.6"/>
<g stroke="#222" stroke-width="0.65"><line x1="584.70" y1="168.00" x2="584.70" y2="173.00" stroke="#666" stroke-width="0.55"/><line x1="582.90" y1="168.00" x2="586.50" y2="168.00"/><line x1="582.90" y1="173.00" x2="586.50" y2="173.00"/></g>
<rect x="587.26" y="95.75" width="5.12" height="130.85" fill="#2e8a2e"/>
<rect x="587.26" y="95.75" width="5.12" height="130.85" fill="none" stroke="#111" stroke-width="0.6"/>
<g stroke="#222" stroke-width="0.65"><line x1="589.82" y1="91.25" x2="589.82" y2="100.25" stroke="#666" stroke-width="0.55"/><line x1="588.02" y1="91.25" x2="591.62" y2="91.25"/><line x1="588.02" y1="100.25" x2="591.62" y2="100.25"/></g>
<rect x="592.38" y="170.75" width="5.12" height="55.85" fill="#2e8a2e"/>
<rect x="592.38" y="170.75" width="5.12" height="55.85" fill="url(#hatch)"/>
<rect x="592.38" y="170.75" width="5.12" height="55.85" fill="none" stroke="#111" stroke-width="0.6"/>
<g stroke="#222" stroke-width="0.65"><line x1="594.94" y1="168.00" x2="594.94" y2="173.50" stroke="#666" stroke-width="0.55"/><line x1="593.14" y1="168.00" x2="596.74" y2="168.00"/><line x1="593.14" y1="173.50" x2="596.74" y2="173.50"/></g>
<rect x="597.50" y="190.50" width="5.12" height="36.10" fill="#9a2aa0"/>
<rect x="597.50" y="190.50" width="5.12" height="36.10" fill="url(#hatch)"/>
<rect x="597.50" y="190.50" width="5.12" height="36.10" fill="none" stroke="#111" stroke-width="0.6"/>
<g stroke="#222" stroke-width="0.65"><line x1="600.06" y1="186.75" x2="600.06" y2="194.25" stroke="#666" stroke-width="0.55"/><line x1="598.26" y1="186.75" x2="601.86" y2="186.75"/><line x1="598.26" y1="194.25" x2="601.86" y2="194.25"/></g>
<line x1="582.14" y1="226.60" x2="582.14" y2="229.60" stroke="#111" stroke-width="1"/>
<rect x="612.50" y="183.25" width="5.12" height="43.35" fill="#000000"/>
<rect x="612.50" y="183.25" width="5.12" height="43.35" fill="none" stroke="#111" stroke-width="0.6"/>
<g stroke="#222" stroke-width="0.65"><line x1="615.06" y1="164.25" x2="615.06" y2="202.25" stroke="#666" stroke-width="0.55"/><line x1="613.26" y1="164.25" x2="616.86" y2="164.25"/><line x1="613.26" y1="202.25" x2="616.86" y2="202.25"/></g>
<rect x="617.62" y="177.00" width="5.12" height="49.60" fill="#e8401c"/>
<rect x="617.62" y="177.00" width="5.12" height="49.60" fill="none" stroke="#111" stroke-width="0.6"/>
<g stroke="#222" stroke-width="0.65"><line x1="620.18" y1="175.00" x2="620.18" y2="179.00" stroke="#666" stroke-width="0.55"/><line x1="618.38" y1="175.00" x2="621.98" y2="175.00"/><line x1="618.38" y1="179.00" x2="621.98" y2="179.00"/></g>
<rect x="622.74" y="119.25" width="5.12" height="107.35" fill="#e8401c"/>
<rect x="622.74" y="119.25" width="5.12" height="107.35" fill="url(#hatch)"/>
<rect x="622.74" y="119.25" width="5.12" height="107.35" fill="none" stroke="#111" stroke-width="0.6"/>
<g stroke="#222" stroke-width="0.65"><line x1="625.30" y1="118.00" x2="625.30" y2="120.50" stroke="#666" stroke-width="0.55"/><line x1="623.50" y1="118.00" x2="627.10" y2="118.00"/><line x1="623.50" y1="120.50" x2="627.10" y2="120.50"/></g>
<rect x="627.86" y="168.00" width="5.12" height="58.60" fill="#3f1e8c"/>
<rect x="627.86" y="168.00" width="5.12" height="58.60" fill="none" stroke="#111" stroke-width="0.6"/>
<g stroke="#222" stroke-width="0.65"><line x1="630.42" y1="166.00" x2="630.42" y2="170.00" stroke="#666" stroke-width="0.55"/><line x1="628.62" y1="166.00" x2="632.22" y2="166.00"/><line x1="628.62" y1="170.00" x2="632.22" y2="170.00"/></g>
<rect x="632.98" y="108.25" width="5.12" height="118.35" fill="#3f1e8c"/>
<rect x="632.98" y="108.25" width="5.12" height="118.35" fill="url(#hatch)"/>
<rect x="632.98" y="108.25" width="5.12" height="118.35" fill="none" stroke="#111" stroke-width="0.6"/>
<rect x="638.10" y="172.50" width="5.12" height="54.10" fill="#2e8a2e"/>
<rect x="638.10" y="172.50" width="5.12" height="54.10" fill="none" stroke="#111" stroke-width="0.6"/>
<g stroke="#222" stroke-width="0.65"><line x1="640.66" y1="165.00" x2="640.66" y2="180.00" stroke="#666" stroke-width="0.55"/><line x1="638.86" y1="165.00" x2="642.46" y2="165.00"/><line x1="638.86" y1="180.00" x2="642.46" y2="180.00"/></g>
<rect x="643.22" y="120.75" width="5.12" height="105.85" fill="#2e8a2e"/>
<rect x="643.22" y="120.75" width="5.12" height="105.85" fill="url(#hatch)"/>
<rect x="643.22" y="120.75" width="5.12" height="105.85" fill="none" stroke="#111" stroke-width="0.6"/>
<g stroke="#222" stroke-width="0.65"><line x1="645.78" y1="119.50" x2="645.78" y2="122.00" stroke="#666" stroke-width="0.55"/><line x1="643.98" y1="119.50" x2="647.58" y2="119.50"/><line x1="643.98" y1="122.00" x2="647.58" y2="122.00"/></g>
<rect x="648.34" y="107.50" width="5.12" height="119.10" fill="#9a2aa0"/>
<rect x="648.34" y="107.50" width="5.12" height="119.10" fill="url(#hatch)"/>
<rect x="648.34" y="107.50" width="5.12" height="119.10" fill="none" stroke="#111" stroke-width="0.6"/>
<g stroke="#222" stroke-width="0.65"><line x1="650.90" y1="101.00" x2="650.90" y2="114.00" stroke="#666" stroke-width="0.55"/><line x1="649.10" y1="101.00" x2="652.70" y2="101.00"/><line x1="649.10" y1="114.00" x2="652.70" y2="114.00"/></g>
<line x1="632.98" y1="226.60" x2="632.98" y2="229.60" stroke="#111" stroke-width="1"/>
<text transform="translate(364.7,254.7) rotate(-28)" font-size="8.9" fill="#222">vC=O</text>
<text transform="translate(370.0,263.4) rotate(-28)" font-size="8.9" fill="#222">1735 cm<tspan dy="-3" font-size="50%">-1</tspan></text>
<text transform="translate(410.8,258.9) rotate(-28)" font-size="8.9" fill="#222">vCO<tspan baseline-shift="-25%" font-size="65%">2</tspan>,δNH<tspan baseline-shift="-25%" font-size="65%">2</tspan></text>
<text transform="translate(416.0,267.1) rotate(-28)" font-size="8.9" fill="#222">1590 cm<tspan dy="-3" font-size="50%">-1</tspan></text>
<text transform="translate(468.2,255.9) rotate(-28)" font-size="8.9" fill="#222">vN-O</text>
<text transform="translate(472.7,265.6) rotate(-28)" font-size="8.9" fill="#222">848 cm<tspan dy="-3" font-size="50%">-1</tspan></text>
<text transform="translate(519.6999999999999,256.6) rotate(-28)" font-size="8.9" fill="#222">vO-H</text>
<text transform="translate(524.1999999999999,265.6) rotate(-28)" font-size="8.9" fill="#222">3500 cm<tspan dy="-3" font-size="50%">-1</tspan></text>
<text transform="translate(571.1999999999999,256.6) rotate(-28)" font-size="8.9" fill="#222">vS-H</text>
<text transform="translate(575.6999999999999,265.6) rotate(-28)" font-size="8.9" fill="#222">2540 cm<tspan dy="-3" font-size="50%">-1</tspan></text>
<text transform="translate(619.4,256.6) rotate(-28)" font-size="8.9" fill="#222">vS=O</text>
<text transform="translate(624.6999999999999,265.6) rotate(-28)" font-size="8.9" fill="#222">1047 cm<tspan dy="-3" font-size="50%">-1</tspan></text>
<rect x="466.6" y="1.6" width="22" height="9.8" fill="#000000"/>
<rect x="466.6" y="1.6" width="22" height="9.8" fill="none" stroke="#111" stroke-width="0.9"/>
<text x="491" y="10.299999999999999" font-size="10" text-anchor="start" font-weight="normal" fill="#222" >control</text>
<rect x="466.6" y="14" width="22" height="9.8" fill="#e8401c"/>
<rect x="466.6" y="14" width="22" height="9.8" fill="url(#hatch)"/>
<rect x="466.6" y="14" width="22" height="9.8" fill="none" stroke="#111" stroke-width="0.9"/>
<text x="491" y="22.7" font-size="10" text-anchor="start" font-weight="normal" fill="#222" >kINPen Ar-only</text>
<rect x="466.6" y="26.7" width="22" height="9.8" fill="#3f1e8c"/>
<rect x="466.6" y="26.7" width="22" height="9.8" fill="url(#hatch)"/>
<rect x="466.6" y="26.7" width="22" height="9.8" fill="none" stroke="#111" stroke-width="0.9"/>
<text x="491" y="35.4" font-size="10" text-anchor="start" font-weight="normal" fill="#222" >kINPen Ar/O<tspan baseline-shift="-40%" font-size="70%">2</tspan></text>
<rect x="466.6" y="40.4" width="22" height="9.8" fill="#2e8a2e"/>
<rect x="466.6" y="40.4" width="22" height="9.8" fill="url(#hatch)"/>
<rect x="466.6" y="40.4" width="22" height="9.8" fill="none" stroke="#111" stroke-width="0.9"/>
<text x="491" y="49.099999999999994" font-size="10" text-anchor="start" font-weight="normal" fill="#222" >kINPen Ar/N<tspan baseline-shift="-40%" font-size="70%">2</tspan></text>
<rect x="466.6" y="54.9" width="22" height="9.8" fill="#9a2aa0"/>
<rect x="466.6" y="54.9" width="22" height="9.8" fill="url(#hatch)"/>
<rect x="466.6" y="54.9" width="22" height="9.8" fill="none" stroke="#111" stroke-width="0.9"/>
<text x="491" y="63.599999999999994" font-size="10" text-anchor="start" font-weight="normal" fill="#222" >kINPen Ar/air</text>
<rect x="559.8" y="13.1" width="21.6" height="10" fill="#e8401c" stroke="#111" stroke-width="0.8"/>
<text x="583.5" y="21.9" font-size="10" text-anchor="start" font-weight="normal" fill="#222" >COST-jet Ar-only</text>
<rect x="559.8" y="25.1" width="21.6" height="10" fill="#3f1e8c" stroke="#111" stroke-width="0.8"/>
<text x="583.5" y="33.900000000000006" font-size="10" text-anchor="start" font-weight="normal" fill="#222" >COST-jet Ar/O<tspan baseline-shift="-40%" font-size="70%">2</tspan></text>
<rect x="559.8" y="40.9" width="21.6" height="10" fill="#2e8a2e" stroke="#111" stroke-width="0.8"/>
<text x="583.5" y="49.7" font-size="10" text-anchor="start" font-weight="normal" fill="#222" >COST-jet Ar/N<tspan baseline-shift="-40%" font-size="70%">2</tspan></text>
</svg></body></html>
